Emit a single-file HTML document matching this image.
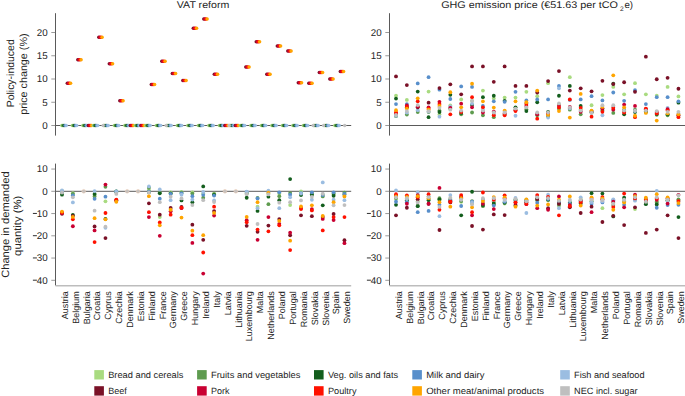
<!DOCTYPE html>
<html><head><meta charset="utf-8"><style>
html,body{margin:0;padding:0;background:#fff;width:685px;height:396px;overflow:hidden}
svg{display:block} text{text-rendering:geometricPrecision}
</style></head><body>
<svg width="685" height="396" viewBox="0 0 685 396"><text x="176.8" y="8" font-family="Liberation Sans, sans-serif" font-size="9.7" fill="#242424" textLength="52.5" lengthAdjust="spacingAndGlyphs">VAT reform</text>
<text x="441.2" y="8" font-family="Liberation Sans, sans-serif" font-size="9.7" fill="#242424" textLength="176.8" lengthAdjust="spacingAndGlyphs">GHG emission price (€51.63 per tCO</text>
<text x="620.1" y="10.7" font-family="Liberation Sans, sans-serif" font-size="6.6" fill="#242424">2</text>
<text x="624.4" y="8" font-family="Liberation Sans, sans-serif" font-size="9.7" fill="#242424">e)</text>
<text transform="translate(13.9,73.3) rotate(-90)" font-family="Liberation Sans, sans-serif" font-size="10.4" fill="#242424" text-anchor="middle" textLength="68" lengthAdjust="spacingAndGlyphs">Policy-induced</text>
<text transform="translate(27.0,74.1) rotate(-90)" font-family="Liberation Sans, sans-serif" font-size="10.4" fill="#242424" text-anchor="middle" textLength="81.2" lengthAdjust="spacingAndGlyphs">price change (%)</text>
<text transform="translate(8.9,224.6) rotate(-90)" font-family="Liberation Sans, sans-serif" font-size="10.6" fill="#242424" text-anchor="middle" textLength="106.5" lengthAdjust="spacingAndGlyphs">Change in demanded</text>
<text transform="translate(21.1,225.8) rotate(-90)" font-family="Liberation Sans, sans-serif" font-size="10.6" fill="#242424" text-anchor="middle" textLength="60.2" lengthAdjust="spacingAndGlyphs">quantity (%)</text>
<line x1="55.5" y1="13.2" x2="55.5" y2="135.6" stroke="#5a5a5a" stroke-width="1"/>
<line x1="51.3" y1="125.50" x2="55.5" y2="125.50" stroke="#6e6e6e" stroke-width="0.7"/>
<text x="47.6" y="128.90" font-family="Liberation Sans, sans-serif" font-size="9.8" fill="#242424" text-anchor="end">0</text>
<line x1="51.3" y1="102.25" x2="55.5" y2="102.25" stroke="#6e6e6e" stroke-width="0.7"/>
<text x="47.6" y="105.65" font-family="Liberation Sans, sans-serif" font-size="9.8" fill="#242424" text-anchor="end">5</text>
<line x1="51.3" y1="79.00" x2="55.5" y2="79.00" stroke="#6e6e6e" stroke-width="0.7"/>
<text x="47.6" y="82.40" font-family="Liberation Sans, sans-serif" font-size="9.8" fill="#242424" text-anchor="end">10</text>
<line x1="51.3" y1="55.75" x2="55.5" y2="55.75" stroke="#6e6e6e" stroke-width="0.7"/>
<text x="47.6" y="59.15" font-family="Liberation Sans, sans-serif" font-size="9.8" fill="#242424" text-anchor="end">15</text>
<line x1="51.3" y1="32.50" x2="55.5" y2="32.50" stroke="#6e6e6e" stroke-width="0.7"/>
<text x="47.6" y="35.90" font-family="Liberation Sans, sans-serif" font-size="9.8" fill="#242424" text-anchor="end">20</text>
<line x1="55.5" y1="125.5" x2="351.2" y2="125.5" stroke="#5a5a5a" stroke-width="1"/>
<line x1="55.5" y1="163.6" x2="55.5" y2="285.5" stroke="#5a5a5a" stroke-width="1"/>
<line x1="55.5" y1="285.8" x2="351.2" y2="285.8" stroke="#BDBDBD" stroke-width="1.6"/>
<line x1="51.3" y1="169.05" x2="55.5" y2="169.05" stroke="#6e6e6e" stroke-width="0.7"/>
<text x="47.6" y="172.45" font-family="Liberation Sans, sans-serif" font-size="9.8" fill="#242424" text-anchor="end">10</text>
<line x1="51.3" y1="191.30" x2="55.5" y2="191.30" stroke="#6e6e6e" stroke-width="0.7"/>
<text x="47.6" y="194.70" font-family="Liberation Sans, sans-serif" font-size="9.8" fill="#242424" text-anchor="end">0</text>
<line x1="51.3" y1="213.55" x2="55.5" y2="213.55" stroke="#6e6e6e" stroke-width="0.7"/>
<text x="47.6" y="216.95" font-family="Liberation Sans, sans-serif" font-size="9.8" fill="#242424" text-anchor="end">10</text>
<line x1="32.9" y1="213.45" x2="36.9" y2="213.45" stroke="#242424" stroke-width="0.95"/>
<line x1="51.3" y1="235.80" x2="55.5" y2="235.80" stroke="#6e6e6e" stroke-width="0.7"/>
<text x="47.6" y="239.20" font-family="Liberation Sans, sans-serif" font-size="9.8" fill="#242424" text-anchor="end">20</text>
<line x1="32.9" y1="235.70" x2="36.9" y2="235.70" stroke="#242424" stroke-width="0.95"/>
<line x1="51.3" y1="258.05" x2="55.5" y2="258.05" stroke="#6e6e6e" stroke-width="0.7"/>
<text x="47.6" y="261.45" font-family="Liberation Sans, sans-serif" font-size="9.8" fill="#242424" text-anchor="end">30</text>
<line x1="32.9" y1="257.95" x2="36.9" y2="257.95" stroke="#242424" stroke-width="0.95"/>
<line x1="51.3" y1="280.30" x2="55.5" y2="280.30" stroke="#6e6e6e" stroke-width="0.7"/>
<text x="47.6" y="283.70" font-family="Liberation Sans, sans-serif" font-size="9.8" fill="#242424" text-anchor="end">40</text>
<line x1="32.9" y1="280.20" x2="36.9" y2="280.20" stroke="#242424" stroke-width="0.95"/>
<line x1="55.5" y1="191.3" x2="351.2" y2="191.3" stroke="#5a5a5a" stroke-width="1"/>
<text transform="translate(67.80,291.2) rotate(-90)" font-family="Liberation Sans, sans-serif" font-size="9" fill="#242424" text-anchor="end">Austria</text>
<text transform="translate(78.66,291.2) rotate(-90)" font-family="Liberation Sans, sans-serif" font-size="9" fill="#242424" text-anchor="end">Belgium</text>
<text transform="translate(89.53,291.2) rotate(-90)" font-family="Liberation Sans, sans-serif" font-size="9" fill="#242424" text-anchor="end">Bulgaria</text>
<text transform="translate(100.39,291.2) rotate(-90)" font-family="Liberation Sans, sans-serif" font-size="9" fill="#242424" text-anchor="end">Croatia</text>
<text transform="translate(111.26,291.2) rotate(-90)" font-family="Liberation Sans, sans-serif" font-size="9" fill="#242424" text-anchor="end">Cyprus</text>
<text transform="translate(122.12,291.2) rotate(-90)" font-family="Liberation Sans, sans-serif" font-size="9" fill="#242424" text-anchor="end">Czechia</text>
<text transform="translate(132.98,291.2) rotate(-90)" font-family="Liberation Sans, sans-serif" font-size="9" fill="#242424" text-anchor="end">Denmark</text>
<text transform="translate(143.85,291.2) rotate(-90)" font-family="Liberation Sans, sans-serif" font-size="9" fill="#242424" text-anchor="end">Estonia</text>
<text transform="translate(154.71,291.2) rotate(-90)" font-family="Liberation Sans, sans-serif" font-size="9" fill="#242424" text-anchor="end">Finland</text>
<text transform="translate(165.58,291.2) rotate(-90)" font-family="Liberation Sans, sans-serif" font-size="9" fill="#242424" text-anchor="end">France</text>
<text transform="translate(176.44,291.2) rotate(-90)" font-family="Liberation Sans, sans-serif" font-size="9" fill="#242424" text-anchor="end">Germany</text>
<text transform="translate(187.30,291.2) rotate(-90)" font-family="Liberation Sans, sans-serif" font-size="9" fill="#242424" text-anchor="end">Greece</text>
<text transform="translate(198.17,291.2) rotate(-90)" font-family="Liberation Sans, sans-serif" font-size="9" fill="#242424" text-anchor="end">Hungary</text>
<text transform="translate(209.03,291.2) rotate(-90)" font-family="Liberation Sans, sans-serif" font-size="9" fill="#242424" text-anchor="end">Ireland</text>
<text transform="translate(219.90,291.2) rotate(-90)" font-family="Liberation Sans, sans-serif" font-size="9" fill="#242424" text-anchor="end">Italy</text>
<text transform="translate(230.76,291.2) rotate(-90)" font-family="Liberation Sans, sans-serif" font-size="9" fill="#242424" text-anchor="end">Latvia</text>
<text transform="translate(241.62,291.2) rotate(-90)" font-family="Liberation Sans, sans-serif" font-size="9" fill="#242424" text-anchor="end">Lithuania</text>
<text transform="translate(252.49,291.2) rotate(-90)" font-family="Liberation Sans, sans-serif" font-size="9" fill="#242424" text-anchor="end">Luxembourg</text>
<text transform="translate(263.35,291.2) rotate(-90)" font-family="Liberation Sans, sans-serif" font-size="9" fill="#242424" text-anchor="end">Malta</text>
<text transform="translate(274.22,291.2) rotate(-90)" font-family="Liberation Sans, sans-serif" font-size="9" fill="#242424" text-anchor="end">Netherlands</text>
<text transform="translate(285.08,291.2) rotate(-90)" font-family="Liberation Sans, sans-serif" font-size="9" fill="#242424" text-anchor="end">Poland</text>
<text transform="translate(295.94,291.2) rotate(-90)" font-family="Liberation Sans, sans-serif" font-size="9" fill="#242424" text-anchor="end">Portugal</text>
<text transform="translate(306.81,291.2) rotate(-90)" font-family="Liberation Sans, sans-serif" font-size="9" fill="#242424" text-anchor="end">Romania</text>
<text transform="translate(317.67,291.2) rotate(-90)" font-family="Liberation Sans, sans-serif" font-size="9" fill="#242424" text-anchor="end">Slovakia</text>
<text transform="translate(328.54,291.2) rotate(-90)" font-family="Liberation Sans, sans-serif" font-size="9" fill="#242424" text-anchor="end">Slovenia</text>
<text transform="translate(339.40,291.2) rotate(-90)" font-family="Liberation Sans, sans-serif" font-size="9" fill="#242424" text-anchor="end">Spain</text>
<text transform="translate(350.26,291.2) rotate(-90)" font-family="Liberation Sans, sans-serif" font-size="9" fill="#242424" text-anchor="end">Sweden</text>
<line x1="389.5" y1="13.2" x2="389.5" y2="135.6" stroke="#5a5a5a" stroke-width="1"/>
<line x1="385.3" y1="125.50" x2="389.5" y2="125.50" stroke="#6e6e6e" stroke-width="0.7"/>
<text x="381.6" y="128.90" font-family="Liberation Sans, sans-serif" font-size="9.8" fill="#242424" text-anchor="end">0</text>
<line x1="385.3" y1="102.25" x2="389.5" y2="102.25" stroke="#6e6e6e" stroke-width="0.7"/>
<text x="381.6" y="105.65" font-family="Liberation Sans, sans-serif" font-size="9.8" fill="#242424" text-anchor="end">5</text>
<line x1="385.3" y1="79.00" x2="389.5" y2="79.00" stroke="#6e6e6e" stroke-width="0.7"/>
<text x="381.6" y="82.40" font-family="Liberation Sans, sans-serif" font-size="9.8" fill="#242424" text-anchor="end">10</text>
<line x1="385.3" y1="55.75" x2="389.5" y2="55.75" stroke="#6e6e6e" stroke-width="0.7"/>
<text x="381.6" y="59.15" font-family="Liberation Sans, sans-serif" font-size="9.8" fill="#242424" text-anchor="end">15</text>
<line x1="385.3" y1="32.50" x2="389.5" y2="32.50" stroke="#6e6e6e" stroke-width="0.7"/>
<text x="381.6" y="35.90" font-family="Liberation Sans, sans-serif" font-size="9.8" fill="#242424" text-anchor="end">20</text>
<line x1="389.5" y1="125.5" x2="685.2" y2="125.5" stroke="#5a5a5a" stroke-width="1"/>
<line x1="389.5" y1="163.6" x2="389.5" y2="285.5" stroke="#5a5a5a" stroke-width="1"/>
<line x1="389.5" y1="285.8" x2="685.2" y2="285.8" stroke="#BDBDBD" stroke-width="1.6"/>
<line x1="385.3" y1="169.05" x2="389.5" y2="169.05" stroke="#6e6e6e" stroke-width="0.7"/>
<text x="381.6" y="172.45" font-family="Liberation Sans, sans-serif" font-size="9.8" fill="#242424" text-anchor="end">10</text>
<line x1="385.3" y1="191.30" x2="389.5" y2="191.30" stroke="#6e6e6e" stroke-width="0.7"/>
<text x="381.6" y="194.70" font-family="Liberation Sans, sans-serif" font-size="9.8" fill="#242424" text-anchor="end">0</text>
<line x1="385.3" y1="213.55" x2="389.5" y2="213.55" stroke="#6e6e6e" stroke-width="0.7"/>
<text x="381.6" y="216.95" font-family="Liberation Sans, sans-serif" font-size="9.8" fill="#242424" text-anchor="end">10</text>
<line x1="366.9" y1="213.45" x2="370.9" y2="213.45" stroke="#242424" stroke-width="0.95"/>
<line x1="385.3" y1="235.80" x2="389.5" y2="235.80" stroke="#6e6e6e" stroke-width="0.7"/>
<text x="381.6" y="239.20" font-family="Liberation Sans, sans-serif" font-size="9.8" fill="#242424" text-anchor="end">20</text>
<line x1="366.9" y1="235.70" x2="370.9" y2="235.70" stroke="#242424" stroke-width="0.95"/>
<line x1="385.3" y1="258.05" x2="389.5" y2="258.05" stroke="#6e6e6e" stroke-width="0.7"/>
<text x="381.6" y="261.45" font-family="Liberation Sans, sans-serif" font-size="9.8" fill="#242424" text-anchor="end">30</text>
<line x1="366.9" y1="257.95" x2="370.9" y2="257.95" stroke="#242424" stroke-width="0.95"/>
<line x1="385.3" y1="280.30" x2="389.5" y2="280.30" stroke="#6e6e6e" stroke-width="0.7"/>
<text x="381.6" y="283.70" font-family="Liberation Sans, sans-serif" font-size="9.8" fill="#242424" text-anchor="end">40</text>
<line x1="366.9" y1="280.20" x2="370.9" y2="280.20" stroke="#242424" stroke-width="0.95"/>
<line x1="389.5" y1="191.3" x2="685.2" y2="191.3" stroke="#5a5a5a" stroke-width="1"/>
<text transform="translate(401.80,291.2) rotate(-90)" font-family="Liberation Sans, sans-serif" font-size="9" fill="#242424" text-anchor="end">Austria</text>
<text transform="translate(412.66,291.2) rotate(-90)" font-family="Liberation Sans, sans-serif" font-size="9" fill="#242424" text-anchor="end">Belgium</text>
<text transform="translate(423.53,291.2) rotate(-90)" font-family="Liberation Sans, sans-serif" font-size="9" fill="#242424" text-anchor="end">Bulgaria</text>
<text transform="translate(434.39,291.2) rotate(-90)" font-family="Liberation Sans, sans-serif" font-size="9" fill="#242424" text-anchor="end">Croatia</text>
<text transform="translate(445.26,291.2) rotate(-90)" font-family="Liberation Sans, sans-serif" font-size="9" fill="#242424" text-anchor="end">Cyprus</text>
<text transform="translate(456.12,291.2) rotate(-90)" font-family="Liberation Sans, sans-serif" font-size="9" fill="#242424" text-anchor="end">Czechia</text>
<text transform="translate(466.98,291.2) rotate(-90)" font-family="Liberation Sans, sans-serif" font-size="9" fill="#242424" text-anchor="end">Denmark</text>
<text transform="translate(477.85,291.2) rotate(-90)" font-family="Liberation Sans, sans-serif" font-size="9" fill="#242424" text-anchor="end">Estonia</text>
<text transform="translate(488.71,291.2) rotate(-90)" font-family="Liberation Sans, sans-serif" font-size="9" fill="#242424" text-anchor="end">Finland</text>
<text transform="translate(499.58,291.2) rotate(-90)" font-family="Liberation Sans, sans-serif" font-size="9" fill="#242424" text-anchor="end">France</text>
<text transform="translate(510.44,291.2) rotate(-90)" font-family="Liberation Sans, sans-serif" font-size="9" fill="#242424" text-anchor="end">Germany</text>
<text transform="translate(521.30,291.2) rotate(-90)" font-family="Liberation Sans, sans-serif" font-size="9" fill="#242424" text-anchor="end">Greece</text>
<text transform="translate(532.17,291.2) rotate(-90)" font-family="Liberation Sans, sans-serif" font-size="9" fill="#242424" text-anchor="end">Hungary</text>
<text transform="translate(543.03,291.2) rotate(-90)" font-family="Liberation Sans, sans-serif" font-size="9" fill="#242424" text-anchor="end">Ireland</text>
<text transform="translate(553.90,291.2) rotate(-90)" font-family="Liberation Sans, sans-serif" font-size="9" fill="#242424" text-anchor="end">Italy</text>
<text transform="translate(564.76,291.2) rotate(-90)" font-family="Liberation Sans, sans-serif" font-size="9" fill="#242424" text-anchor="end">Latvia</text>
<text transform="translate(575.62,291.2) rotate(-90)" font-family="Liberation Sans, sans-serif" font-size="9" fill="#242424" text-anchor="end">Lithuania</text>
<text transform="translate(586.49,291.2) rotate(-90)" font-family="Liberation Sans, sans-serif" font-size="9" fill="#242424" text-anchor="end">Luxembourg</text>
<text transform="translate(597.35,291.2) rotate(-90)" font-family="Liberation Sans, sans-serif" font-size="9" fill="#242424" text-anchor="end">Malta</text>
<text transform="translate(608.22,291.2) rotate(-90)" font-family="Liberation Sans, sans-serif" font-size="9" fill="#242424" text-anchor="end">Netherlands</text>
<text transform="translate(619.08,291.2) rotate(-90)" font-family="Liberation Sans, sans-serif" font-size="9" fill="#242424" text-anchor="end">Poland</text>
<text transform="translate(629.94,291.2) rotate(-90)" font-family="Liberation Sans, sans-serif" font-size="9" fill="#242424" text-anchor="end">Portugal</text>
<text transform="translate(640.81,291.2) rotate(-90)" font-family="Liberation Sans, sans-serif" font-size="9" fill="#242424" text-anchor="end">Romania</text>
<text transform="translate(651.67,291.2) rotate(-90)" font-family="Liberation Sans, sans-serif" font-size="9" fill="#242424" text-anchor="end">Slovakia</text>
<text transform="translate(662.54,291.2) rotate(-90)" font-family="Liberation Sans, sans-serif" font-size="9" fill="#242424" text-anchor="end">Slovenia</text>
<text transform="translate(673.40,291.2) rotate(-90)" font-family="Liberation Sans, sans-serif" font-size="9" fill="#242424" text-anchor="end">Spain</text>
<text transform="translate(684.26,291.2) rotate(-90)" font-family="Liberation Sans, sans-serif" font-size="9" fill="#242424" text-anchor="end">Sweden</text>
<circle cx="61.80" cy="125.50" r="1.75" fill="#A9DB80"/>
<circle cx="62.90" cy="125.50" r="1.75" fill="#5E9B4F"/>
<circle cx="64.00" cy="125.50" r="1.75" fill="#135E1D"/>
<circle cx="65.10" cy="125.50" r="1.75" fill="#588FCB"/>
<circle cx="66.20" cy="125.50" r="1.75" fill="#9BBDE1"/>
<circle cx="67.30" cy="83.32" r="1.75" fill="#7A1127"/>
<circle cx="68.40" cy="83.32" r="1.75" fill="#C90032"/>
<circle cx="69.50" cy="83.32" r="1.75" fill="#FF1100"/>
<circle cx="70.60" cy="83.32" r="1.75" fill="#FFA500"/>
<circle cx="72.30" cy="125.50" r="1.75" fill="#A9DB80"/>
<circle cx="73.40" cy="125.50" r="1.75" fill="#5E9B4F"/>
<circle cx="74.50" cy="125.50" r="1.75" fill="#135E1D"/>
<circle cx="75.60" cy="125.50" r="1.75" fill="#588FCB"/>
<circle cx="76.70" cy="125.50" r="1.75" fill="#9BBDE1"/>
<circle cx="77.80" cy="59.70" r="1.75" fill="#7A1127"/>
<circle cx="78.90" cy="59.70" r="1.75" fill="#C90032"/>
<circle cx="80.00" cy="59.70" r="1.75" fill="#FF1100"/>
<circle cx="81.10" cy="59.70" r="1.75" fill="#FFA500"/>
<circle cx="82.80" cy="125.50" r="1.75" fill="#A9DB80"/>
<circle cx="83.90" cy="125.50" r="1.75" fill="#5E9B4F"/>
<circle cx="85.00" cy="125.50" r="1.75" fill="#135E1D"/>
<circle cx="86.10" cy="125.50" r="1.75" fill="#588FCB"/>
<circle cx="87.20" cy="125.50" r="1.75" fill="#9BBDE1"/>
<circle cx="88.30" cy="125.50" r="1.75" fill="#7A1127"/>
<circle cx="89.40" cy="125.50" r="1.75" fill="#C90032"/>
<circle cx="90.50" cy="125.50" r="1.75" fill="#FF1100"/>
<circle cx="91.60" cy="125.50" r="1.75" fill="#FFA500"/>
<circle cx="93.30" cy="125.50" r="1.75" fill="#A9DB80"/>
<circle cx="94.40" cy="125.50" r="1.75" fill="#5E9B4F"/>
<circle cx="95.50" cy="125.50" r="1.75" fill="#135E1D"/>
<circle cx="96.60" cy="125.50" r="1.75" fill="#588FCB"/>
<circle cx="97.70" cy="125.50" r="1.75" fill="#9BBDE1"/>
<circle cx="98.80" cy="37.29" r="1.75" fill="#7A1127"/>
<circle cx="99.90" cy="37.29" r="1.75" fill="#C90032"/>
<circle cx="101.00" cy="37.29" r="1.75" fill="#FF1100"/>
<circle cx="102.10" cy="37.29" r="1.75" fill="#FFA500"/>
<circle cx="103.80" cy="125.50" r="1.75" fill="#A9DB80"/>
<circle cx="104.90" cy="125.50" r="1.75" fill="#5E9B4F"/>
<circle cx="106.00" cy="125.50" r="1.75" fill="#135E1D"/>
<circle cx="107.10" cy="125.50" r="1.75" fill="#588FCB"/>
<circle cx="108.20" cy="125.50" r="1.75" fill="#9BBDE1"/>
<circle cx="109.30" cy="63.65" r="1.75" fill="#7A1127"/>
<circle cx="110.40" cy="63.65" r="1.75" fill="#C90032"/>
<circle cx="111.50" cy="63.65" r="1.75" fill="#FF1100"/>
<circle cx="112.60" cy="63.65" r="1.75" fill="#FFA500"/>
<circle cx="114.30" cy="125.50" r="1.75" fill="#A9DB80"/>
<circle cx="115.40" cy="125.50" r="1.75" fill="#5E9B4F"/>
<circle cx="116.50" cy="125.50" r="1.75" fill="#135E1D"/>
<circle cx="117.60" cy="125.50" r="1.75" fill="#588FCB"/>
<circle cx="118.70" cy="125.50" r="1.75" fill="#9BBDE1"/>
<circle cx="119.80" cy="100.86" r="1.75" fill="#7A1127"/>
<circle cx="120.90" cy="100.86" r="1.75" fill="#C90032"/>
<circle cx="122.00" cy="100.86" r="1.75" fill="#FF1100"/>
<circle cx="123.10" cy="100.86" r="1.75" fill="#FFA500"/>
<circle cx="124.80" cy="125.50" r="1.75" fill="#A9DB80"/>
<circle cx="125.90" cy="125.50" r="1.75" fill="#5E9B4F"/>
<circle cx="127.00" cy="125.50" r="1.75" fill="#135E1D"/>
<circle cx="128.10" cy="125.50" r="1.75" fill="#588FCB"/>
<circle cx="129.20" cy="125.50" r="1.75" fill="#9BBDE1"/>
<circle cx="130.30" cy="125.50" r="1.75" fill="#7A1127"/>
<circle cx="131.40" cy="125.50" r="1.75" fill="#C90032"/>
<circle cx="132.50" cy="125.50" r="1.75" fill="#FF1100"/>
<circle cx="133.60" cy="125.50" r="1.75" fill="#FFA500"/>
<circle cx="135.30" cy="125.50" r="1.75" fill="#A9DB80"/>
<circle cx="136.40" cy="125.50" r="1.75" fill="#5E9B4F"/>
<circle cx="137.50" cy="125.50" r="1.75" fill="#135E1D"/>
<circle cx="138.60" cy="125.50" r="1.75" fill="#588FCB"/>
<circle cx="139.70" cy="125.50" r="1.75" fill="#9BBDE1"/>
<circle cx="140.80" cy="125.50" r="1.75" fill="#7A1127"/>
<circle cx="141.90" cy="125.50" r="1.75" fill="#C90032"/>
<circle cx="143.00" cy="125.50" r="1.75" fill="#FF1100"/>
<circle cx="144.10" cy="125.50" r="1.75" fill="#FFA500"/>
<circle cx="145.80" cy="125.50" r="1.75" fill="#A9DB80"/>
<circle cx="146.90" cy="125.50" r="1.75" fill="#5E9B4F"/>
<circle cx="148.00" cy="125.50" r="1.75" fill="#135E1D"/>
<circle cx="149.10" cy="125.50" r="1.75" fill="#588FCB"/>
<circle cx="150.20" cy="125.50" r="1.75" fill="#9BBDE1"/>
<circle cx="151.30" cy="84.58" r="1.75" fill="#7A1127"/>
<circle cx="152.40" cy="84.58" r="1.75" fill="#C90032"/>
<circle cx="153.50" cy="84.58" r="1.75" fill="#FF1100"/>
<circle cx="154.60" cy="84.58" r="1.75" fill="#FFA500"/>
<circle cx="156.30" cy="125.50" r="1.75" fill="#A9DB80"/>
<circle cx="157.40" cy="125.50" r="1.75" fill="#5E9B4F"/>
<circle cx="158.50" cy="125.50" r="1.75" fill="#135E1D"/>
<circle cx="159.60" cy="125.50" r="1.75" fill="#588FCB"/>
<circle cx="160.70" cy="125.50" r="1.75" fill="#9BBDE1"/>
<circle cx="161.80" cy="61.33" r="1.75" fill="#7A1127"/>
<circle cx="162.90" cy="61.33" r="1.75" fill="#C90032"/>
<circle cx="164.00" cy="61.33" r="1.75" fill="#FF1100"/>
<circle cx="165.10" cy="61.33" r="1.75" fill="#FFA500"/>
<circle cx="166.80" cy="125.50" r="1.75" fill="#A9DB80"/>
<circle cx="167.90" cy="125.50" r="1.75" fill="#5E9B4F"/>
<circle cx="169.00" cy="125.50" r="1.75" fill="#135E1D"/>
<circle cx="170.10" cy="125.50" r="1.75" fill="#588FCB"/>
<circle cx="171.20" cy="125.50" r="1.75" fill="#9BBDE1"/>
<circle cx="172.30" cy="73.42" r="1.75" fill="#7A1127"/>
<circle cx="173.40" cy="73.42" r="1.75" fill="#C90032"/>
<circle cx="174.50" cy="73.42" r="1.75" fill="#FF1100"/>
<circle cx="175.60" cy="73.42" r="1.75" fill="#FFA500"/>
<circle cx="177.30" cy="125.50" r="1.75" fill="#A9DB80"/>
<circle cx="178.40" cy="125.50" r="1.75" fill="#5E9B4F"/>
<circle cx="179.50" cy="125.50" r="1.75" fill="#135E1D"/>
<circle cx="180.60" cy="125.50" r="1.75" fill="#588FCB"/>
<circle cx="181.70" cy="125.50" r="1.75" fill="#9BBDE1"/>
<circle cx="182.80" cy="80.40" r="1.75" fill="#7A1127"/>
<circle cx="183.90" cy="80.40" r="1.75" fill="#C90032"/>
<circle cx="185.00" cy="80.40" r="1.75" fill="#FF1100"/>
<circle cx="186.10" cy="80.40" r="1.75" fill="#FFA500"/>
<circle cx="187.80" cy="125.50" r="1.75" fill="#A9DB80"/>
<circle cx="188.90" cy="125.50" r="1.75" fill="#5E9B4F"/>
<circle cx="190.00" cy="125.50" r="1.75" fill="#135E1D"/>
<circle cx="191.10" cy="125.50" r="1.75" fill="#588FCB"/>
<circle cx="192.20" cy="125.50" r="1.75" fill="#9BBDE1"/>
<circle cx="193.30" cy="28.31" r="1.75" fill="#7A1127"/>
<circle cx="194.40" cy="28.31" r="1.75" fill="#C90032"/>
<circle cx="195.50" cy="28.31" r="1.75" fill="#FF1100"/>
<circle cx="196.60" cy="28.31" r="1.75" fill="#FFA500"/>
<circle cx="198.30" cy="125.50" r="1.75" fill="#A9DB80"/>
<circle cx="199.40" cy="125.50" r="1.75" fill="#5E9B4F"/>
<circle cx="200.50" cy="125.50" r="1.75" fill="#135E1D"/>
<circle cx="201.60" cy="125.50" r="1.75" fill="#588FCB"/>
<circle cx="202.70" cy="125.50" r="1.75" fill="#9BBDE1"/>
<circle cx="203.80" cy="19.02" r="1.75" fill="#7A1127"/>
<circle cx="204.90" cy="19.02" r="1.75" fill="#C90032"/>
<circle cx="206.00" cy="19.02" r="1.75" fill="#FF1100"/>
<circle cx="207.10" cy="19.02" r="1.75" fill="#FFA500"/>
<circle cx="208.80" cy="125.50" r="1.75" fill="#A9DB80"/>
<circle cx="209.90" cy="125.50" r="1.75" fill="#5E9B4F"/>
<circle cx="211.00" cy="125.50" r="1.75" fill="#135E1D"/>
<circle cx="212.10" cy="125.50" r="1.75" fill="#588FCB"/>
<circle cx="213.20" cy="125.50" r="1.75" fill="#9BBDE1"/>
<circle cx="214.30" cy="74.35" r="1.75" fill="#7A1127"/>
<circle cx="215.40" cy="74.35" r="1.75" fill="#C90032"/>
<circle cx="216.50" cy="74.35" r="1.75" fill="#FF1100"/>
<circle cx="217.60" cy="74.35" r="1.75" fill="#FFA500"/>
<circle cx="219.30" cy="125.50" r="1.75" fill="#A9DB80"/>
<circle cx="220.40" cy="125.50" r="1.75" fill="#5E9B4F"/>
<circle cx="221.50" cy="125.50" r="1.75" fill="#135E1D"/>
<circle cx="222.60" cy="125.50" r="1.75" fill="#588FCB"/>
<circle cx="223.70" cy="125.50" r="1.75" fill="#9BBDE1"/>
<circle cx="224.80" cy="125.50" r="1.75" fill="#7A1127"/>
<circle cx="225.90" cy="125.50" r="1.75" fill="#C90032"/>
<circle cx="227.00" cy="125.50" r="1.75" fill="#FF1100"/>
<circle cx="228.10" cy="125.50" r="1.75" fill="#FFA500"/>
<circle cx="229.80" cy="125.50" r="1.75" fill="#A9DB80"/>
<circle cx="230.90" cy="125.50" r="1.75" fill="#5E9B4F"/>
<circle cx="232.00" cy="125.50" r="1.75" fill="#135E1D"/>
<circle cx="233.10" cy="125.50" r="1.75" fill="#588FCB"/>
<circle cx="234.20" cy="125.50" r="1.75" fill="#9BBDE1"/>
<circle cx="235.30" cy="125.50" r="1.75" fill="#7A1127"/>
<circle cx="236.40" cy="125.50" r="1.75" fill="#C90032"/>
<circle cx="237.50" cy="125.50" r="1.75" fill="#FF1100"/>
<circle cx="238.60" cy="125.50" r="1.75" fill="#FFA500"/>
<circle cx="240.30" cy="125.50" r="1.75" fill="#A9DB80"/>
<circle cx="241.40" cy="125.50" r="1.75" fill="#5E9B4F"/>
<circle cx="242.50" cy="125.50" r="1.75" fill="#135E1D"/>
<circle cx="243.60" cy="125.50" r="1.75" fill="#588FCB"/>
<circle cx="244.70" cy="125.50" r="1.75" fill="#9BBDE1"/>
<circle cx="245.80" cy="66.91" r="1.75" fill="#7A1127"/>
<circle cx="246.90" cy="66.91" r="1.75" fill="#C90032"/>
<circle cx="248.00" cy="66.91" r="1.75" fill="#FF1100"/>
<circle cx="249.10" cy="66.91" r="1.75" fill="#FFA500"/>
<circle cx="250.80" cy="125.50" r="1.75" fill="#A9DB80"/>
<circle cx="251.90" cy="125.50" r="1.75" fill="#5E9B4F"/>
<circle cx="253.00" cy="125.50" r="1.75" fill="#135E1D"/>
<circle cx="254.10" cy="125.50" r="1.75" fill="#588FCB"/>
<circle cx="255.20" cy="125.50" r="1.75" fill="#9BBDE1"/>
<circle cx="256.30" cy="41.80" r="1.75" fill="#7A1127"/>
<circle cx="257.40" cy="41.80" r="1.75" fill="#C90032"/>
<circle cx="258.50" cy="41.80" r="1.75" fill="#FF1100"/>
<circle cx="259.60" cy="41.80" r="1.75" fill="#FFA500"/>
<circle cx="261.30" cy="125.50" r="1.75" fill="#A9DB80"/>
<circle cx="262.40" cy="125.50" r="1.75" fill="#5E9B4F"/>
<circle cx="263.50" cy="125.50" r="1.75" fill="#135E1D"/>
<circle cx="264.60" cy="125.50" r="1.75" fill="#588FCB"/>
<circle cx="265.70" cy="125.50" r="1.75" fill="#9BBDE1"/>
<circle cx="266.80" cy="74.35" r="1.75" fill="#7A1127"/>
<circle cx="267.90" cy="74.35" r="1.75" fill="#C90032"/>
<circle cx="269.00" cy="74.35" r="1.75" fill="#FF1100"/>
<circle cx="270.10" cy="74.35" r="1.75" fill="#FFA500"/>
<circle cx="271.80" cy="125.50" r="1.75" fill="#A9DB80"/>
<circle cx="272.90" cy="125.50" r="1.75" fill="#5E9B4F"/>
<circle cx="274.00" cy="125.50" r="1.75" fill="#135E1D"/>
<circle cx="275.10" cy="125.50" r="1.75" fill="#588FCB"/>
<circle cx="276.20" cy="125.50" r="1.75" fill="#9BBDE1"/>
<circle cx="277.30" cy="45.98" r="1.75" fill="#7A1127"/>
<circle cx="278.40" cy="45.98" r="1.75" fill="#C90032"/>
<circle cx="279.50" cy="45.98" r="1.75" fill="#FF1100"/>
<circle cx="280.60" cy="45.98" r="1.75" fill="#FFA500"/>
<circle cx="282.30" cy="125.50" r="1.75" fill="#A9DB80"/>
<circle cx="283.40" cy="125.50" r="1.75" fill="#5E9B4F"/>
<circle cx="284.50" cy="125.50" r="1.75" fill="#135E1D"/>
<circle cx="285.60" cy="125.50" r="1.75" fill="#588FCB"/>
<circle cx="286.70" cy="125.50" r="1.75" fill="#9BBDE1"/>
<circle cx="287.80" cy="51.10" r="1.75" fill="#7A1127"/>
<circle cx="288.90" cy="51.10" r="1.75" fill="#C90032"/>
<circle cx="290.00" cy="51.10" r="1.75" fill="#FF1100"/>
<circle cx="291.10" cy="51.10" r="1.75" fill="#FFA500"/>
<circle cx="292.80" cy="125.50" r="1.75" fill="#A9DB80"/>
<circle cx="293.90" cy="125.50" r="1.75" fill="#5E9B4F"/>
<circle cx="295.00" cy="125.50" r="1.75" fill="#135E1D"/>
<circle cx="296.10" cy="125.50" r="1.75" fill="#588FCB"/>
<circle cx="297.20" cy="125.50" r="1.75" fill="#9BBDE1"/>
<circle cx="298.30" cy="82.72" r="1.75" fill="#7A1127"/>
<circle cx="299.40" cy="82.72" r="1.75" fill="#C90032"/>
<circle cx="300.50" cy="82.72" r="1.75" fill="#FF1100"/>
<circle cx="301.60" cy="82.72" r="1.75" fill="#FFA500"/>
<circle cx="303.30" cy="125.50" r="1.75" fill="#A9DB80"/>
<circle cx="304.40" cy="125.50" r="1.75" fill="#5E9B4F"/>
<circle cx="305.50" cy="125.50" r="1.75" fill="#135E1D"/>
<circle cx="306.60" cy="125.50" r="1.75" fill="#588FCB"/>
<circle cx="307.70" cy="125.50" r="1.75" fill="#9BBDE1"/>
<circle cx="308.80" cy="83.19" r="1.75" fill="#7A1127"/>
<circle cx="309.90" cy="83.19" r="1.75" fill="#C90032"/>
<circle cx="311.00" cy="83.19" r="1.75" fill="#FF1100"/>
<circle cx="312.10" cy="83.19" r="1.75" fill="#FFA500"/>
<circle cx="313.80" cy="125.50" r="1.75" fill="#A9DB80"/>
<circle cx="314.90" cy="125.50" r="1.75" fill="#5E9B4F"/>
<circle cx="316.00" cy="125.50" r="1.75" fill="#135E1D"/>
<circle cx="317.10" cy="125.50" r="1.75" fill="#588FCB"/>
<circle cx="318.20" cy="125.50" r="1.75" fill="#9BBDE1"/>
<circle cx="319.30" cy="72.49" r="1.75" fill="#7A1127"/>
<circle cx="320.40" cy="72.49" r="1.75" fill="#C90032"/>
<circle cx="321.50" cy="72.49" r="1.75" fill="#FF1100"/>
<circle cx="322.60" cy="72.49" r="1.75" fill="#FFA500"/>
<circle cx="324.30" cy="125.50" r="1.75" fill="#A9DB80"/>
<circle cx="325.40" cy="125.50" r="1.75" fill="#5E9B4F"/>
<circle cx="326.50" cy="125.50" r="1.75" fill="#135E1D"/>
<circle cx="327.60" cy="125.50" r="1.75" fill="#588FCB"/>
<circle cx="328.70" cy="125.50" r="1.75" fill="#9BBDE1"/>
<circle cx="329.80" cy="79.00" r="1.75" fill="#7A1127"/>
<circle cx="330.90" cy="79.00" r="1.75" fill="#C90032"/>
<circle cx="332.00" cy="79.00" r="1.75" fill="#FF1100"/>
<circle cx="333.10" cy="79.00" r="1.75" fill="#FFA500"/>
<circle cx="334.80" cy="125.50" r="1.75" fill="#A9DB80"/>
<circle cx="335.90" cy="125.50" r="1.75" fill="#5E9B4F"/>
<circle cx="337.00" cy="125.50" r="1.75" fill="#135E1D"/>
<circle cx="338.10" cy="125.50" r="1.75" fill="#588FCB"/>
<circle cx="339.20" cy="125.50" r="1.75" fill="#9BBDE1"/>
<circle cx="340.30" cy="71.56" r="1.75" fill="#7A1127"/>
<circle cx="341.40" cy="71.56" r="1.75" fill="#C90032"/>
<circle cx="342.50" cy="71.56" r="1.75" fill="#FF1100"/>
<circle cx="343.60" cy="71.56" r="1.75" fill="#FFA500"/>
<circle cx="103.20" cy="125.50" r="1.75" fill="#BFBFBF"/>
<circle cx="166.20" cy="125.50" r="1.75" fill="#BFBFBF"/>
<circle cx="229.20" cy="125.50" r="1.75" fill="#BFBFBF"/>
<circle cx="313.20" cy="125.50" r="1.75" fill="#BFBFBF"/>
<circle cx="323.70" cy="125.50" r="1.75" fill="#BFBFBF"/>
<circle cx="344.70" cy="125.50" r="1.75" fill="#BFBFBF"/>
<circle cx="396.00" cy="95.74" r="1.9" fill="#A9DB80"/>
<circle cx="396.00" cy="116.20" r="1.9" fill="#5E9B4F"/>
<circle cx="396.00" cy="98.53" r="1.9" fill="#135E1D"/>
<circle cx="396.00" cy="104.11" r="1.9" fill="#588FCB"/>
<circle cx="396.00" cy="115.73" r="1.9" fill="#9BBDE1"/>
<circle cx="396.00" cy="76.40" r="1.9" fill="#7A1127"/>
<circle cx="396.00" cy="113.41" r="1.9" fill="#C90032"/>
<circle cx="396.00" cy="112.48" r="1.9" fill="#FF1100"/>
<circle cx="396.00" cy="110.16" r="1.9" fill="#FFA500"/>
<circle cx="396.00" cy="114.99" r="1.9" fill="#BFBFBF"/>
<circle cx="406.86" cy="99.92" r="1.9" fill="#A9DB80"/>
<circle cx="406.86" cy="114.57" r="1.9" fill="#5E9B4F"/>
<circle cx="406.86" cy="107.36" r="1.9" fill="#135E1D"/>
<circle cx="406.86" cy="104.11" r="1.9" fill="#588FCB"/>
<circle cx="406.86" cy="112.48" r="1.9" fill="#9BBDE1"/>
<circle cx="406.86" cy="85.05" r="1.9" fill="#7A1127"/>
<circle cx="406.86" cy="105.50" r="1.9" fill="#C90032"/>
<circle cx="406.86" cy="106.90" r="1.9" fill="#FF1100"/>
<circle cx="406.86" cy="108.53" r="1.9" fill="#FFA500"/>
<circle cx="406.86" cy="111.08" r="1.9" fill="#BFBFBF"/>
<circle cx="417.73" cy="106.90" r="1.9" fill="#A9DB80"/>
<circle cx="417.73" cy="112.02" r="1.9" fill="#5E9B4F"/>
<circle cx="417.73" cy="91.56" r="1.9" fill="#135E1D"/>
<circle cx="417.73" cy="83.42" r="1.9" fill="#588FCB"/>
<circle cx="417.73" cy="110.16" r="1.9" fill="#9BBDE1"/>
<circle cx="417.73" cy="107.36" r="1.9" fill="#7A1127"/>
<circle cx="417.73" cy="106.44" r="1.9" fill="#C90032"/>
<circle cx="417.73" cy="101.32" r="1.9" fill="#FF1100"/>
<circle cx="417.73" cy="98.30" r="1.9" fill="#FFA500"/>
<circle cx="417.73" cy="105.04" r="1.9" fill="#BFBFBF"/>
<circle cx="428.59" cy="91.56" r="1.9" fill="#A9DB80"/>
<circle cx="428.59" cy="112.02" r="1.9" fill="#5E9B4F"/>
<circle cx="428.59" cy="117.13" r="1.9" fill="#135E1D"/>
<circle cx="428.59" cy="77.14" r="1.9" fill="#588FCB"/>
<circle cx="428.59" cy="111.55" r="1.9" fill="#9BBDE1"/>
<circle cx="428.59" cy="102.72" r="1.9" fill="#7A1127"/>
<circle cx="428.59" cy="107.36" r="1.9" fill="#C90032"/>
<circle cx="428.59" cy="108.76" r="1.9" fill="#FF1100"/>
<circle cx="428.59" cy="109.69" r="1.9" fill="#FFA500"/>
<circle cx="428.59" cy="111.08" r="1.9" fill="#BFBFBF"/>
<circle cx="439.46" cy="114.57" r="1.9" fill="#A9DB80"/>
<circle cx="439.46" cy="110.62" r="1.9" fill="#5E9B4F"/>
<circle cx="439.46" cy="112.02" r="1.9" fill="#135E1D"/>
<circle cx="439.46" cy="89.69" r="1.9" fill="#588FCB"/>
<circle cx="439.46" cy="116.66" r="1.9" fill="#9BBDE1"/>
<circle cx="439.46" cy="88.07" r="1.9" fill="#7A1127"/>
<circle cx="439.46" cy="101.78" r="1.9" fill="#C90032"/>
<circle cx="439.46" cy="104.11" r="1.9" fill="#FF1100"/>
<circle cx="439.46" cy="105.97" r="1.9" fill="#FFA500"/>
<circle cx="439.46" cy="107.83" r="1.9" fill="#BFBFBF"/>
<circle cx="450.32" cy="105.50" r="1.9" fill="#A9DB80"/>
<circle cx="450.32" cy="108.76" r="1.9" fill="#5E9B4F"/>
<circle cx="450.32" cy="94.81" r="1.9" fill="#135E1D"/>
<circle cx="450.32" cy="99.00" r="1.9" fill="#588FCB"/>
<circle cx="450.32" cy="106.44" r="1.9" fill="#9BBDE1"/>
<circle cx="450.32" cy="84.35" r="1.9" fill="#7A1127"/>
<circle cx="450.32" cy="107.83" r="1.9" fill="#C90032"/>
<circle cx="450.32" cy="114.34" r="1.9" fill="#FF1100"/>
<circle cx="450.32" cy="92.25" r="1.9" fill="#FFA500"/>
<circle cx="450.32" cy="109.69" r="1.9" fill="#BFBFBF"/>
<circle cx="461.18" cy="99.46" r="1.9" fill="#A9DB80"/>
<circle cx="461.18" cy="114.34" r="1.9" fill="#5E9B4F"/>
<circle cx="461.18" cy="112.94" r="1.9" fill="#135E1D"/>
<circle cx="461.18" cy="86.44" r="1.9" fill="#588FCB"/>
<circle cx="461.18" cy="111.55" r="1.9" fill="#9BBDE1"/>
<circle cx="461.18" cy="94.34" r="1.9" fill="#7A1127"/>
<circle cx="461.18" cy="103.64" r="1.9" fill="#C90032"/>
<circle cx="461.18" cy="112.02" r="1.9" fill="#FF1100"/>
<circle cx="461.18" cy="107.36" r="1.9" fill="#FFA500"/>
<circle cx="461.18" cy="110.62" r="1.9" fill="#BFBFBF"/>
<circle cx="472.05" cy="100.86" r="1.9" fill="#A9DB80"/>
<circle cx="472.05" cy="112.48" r="1.9" fill="#5E9B4F"/>
<circle cx="472.05" cy="105.04" r="1.9" fill="#135E1D"/>
<circle cx="472.05" cy="86.91" r="1.9" fill="#588FCB"/>
<circle cx="472.05" cy="103.64" r="1.9" fill="#9BBDE1"/>
<circle cx="472.05" cy="66.44" r="1.9" fill="#7A1127"/>
<circle cx="472.05" cy="107.36" r="1.9" fill="#C90032"/>
<circle cx="472.05" cy="97.13" r="1.9" fill="#FF1100"/>
<circle cx="472.05" cy="83.65" r="1.9" fill="#FFA500"/>
<circle cx="472.05" cy="100.86" r="1.9" fill="#BFBFBF"/>
<circle cx="482.91" cy="90.62" r="1.9" fill="#A9DB80"/>
<circle cx="482.91" cy="115.27" r="1.9" fill="#5E9B4F"/>
<circle cx="482.91" cy="97.13" r="1.9" fill="#135E1D"/>
<circle cx="482.91" cy="105.97" r="1.9" fill="#588FCB"/>
<circle cx="482.91" cy="109.69" r="1.9" fill="#9BBDE1"/>
<circle cx="482.91" cy="66.44" r="1.9" fill="#7A1127"/>
<circle cx="482.91" cy="112.48" r="1.9" fill="#C90032"/>
<circle cx="482.91" cy="107.36" r="1.9" fill="#FF1100"/>
<circle cx="482.91" cy="101.32" r="1.9" fill="#FFA500"/>
<circle cx="482.91" cy="110.62" r="1.9" fill="#BFBFBF"/>
<circle cx="493.78" cy="98.53" r="1.9" fill="#A9DB80"/>
<circle cx="493.78" cy="117.13" r="1.9" fill="#5E9B4F"/>
<circle cx="493.78" cy="95.74" r="1.9" fill="#135E1D"/>
<circle cx="493.78" cy="101.32" r="1.9" fill="#588FCB"/>
<circle cx="493.78" cy="113.88" r="1.9" fill="#9BBDE1"/>
<circle cx="493.78" cy="81.79" r="1.9" fill="#7A1127"/>
<circle cx="493.78" cy="111.55" r="1.9" fill="#C90032"/>
<circle cx="493.78" cy="115.27" r="1.9" fill="#FF1100"/>
<circle cx="493.78" cy="107.60" r="1.9" fill="#FFA500"/>
<circle cx="493.78" cy="112.48" r="1.9" fill="#BFBFBF"/>
<circle cx="504.64" cy="97.60" r="1.9" fill="#A9DB80"/>
<circle cx="504.64" cy="114.34" r="1.9" fill="#5E9B4F"/>
<circle cx="504.64" cy="100.86" r="1.9" fill="#135E1D"/>
<circle cx="504.64" cy="101.78" r="1.9" fill="#588FCB"/>
<circle cx="504.64" cy="111.55" r="1.9" fill="#9BBDE1"/>
<circle cx="504.64" cy="66.44" r="1.9" fill="#7A1127"/>
<circle cx="504.64" cy="113.41" r="1.9" fill="#C90032"/>
<circle cx="504.64" cy="115.27" r="1.9" fill="#FF1100"/>
<circle cx="504.64" cy="110.62" r="1.9" fill="#FFA500"/>
<circle cx="504.64" cy="112.48" r="1.9" fill="#BFBFBF"/>
<circle cx="515.50" cy="97.60" r="1.9" fill="#A9DB80"/>
<circle cx="515.50" cy="109.69" r="1.9" fill="#5E9B4F"/>
<circle cx="515.50" cy="107.36" r="1.9" fill="#135E1D"/>
<circle cx="515.50" cy="91.79" r="1.9" fill="#588FCB"/>
<circle cx="515.50" cy="115.73" r="1.9" fill="#9BBDE1"/>
<circle cx="515.50" cy="85.97" r="1.9" fill="#7A1127"/>
<circle cx="515.50" cy="110.16" r="1.9" fill="#C90032"/>
<circle cx="515.50" cy="111.08" r="1.9" fill="#FF1100"/>
<circle cx="515.50" cy="101.32" r="1.9" fill="#FFA500"/>
<circle cx="515.50" cy="108.53" r="1.9" fill="#BFBFBF"/>
<circle cx="526.37" cy="91.79" r="1.9" fill="#A9DB80"/>
<circle cx="526.37" cy="109.22" r="1.9" fill="#5E9B4F"/>
<circle cx="526.37" cy="111.08" r="1.9" fill="#135E1D"/>
<circle cx="526.37" cy="100.39" r="1.9" fill="#588FCB"/>
<circle cx="526.37" cy="103.18" r="1.9" fill="#9BBDE1"/>
<circle cx="526.37" cy="85.97" r="1.9" fill="#7A1127"/>
<circle cx="526.37" cy="105.97" r="1.9" fill="#C90032"/>
<circle cx="526.37" cy="104.11" r="1.9" fill="#FF1100"/>
<circle cx="526.37" cy="102.25" r="1.9" fill="#FFA500"/>
<circle cx="526.37" cy="107.36" r="1.9" fill="#BFBFBF"/>
<circle cx="537.23" cy="96.20" r="1.9" fill="#A9DB80"/>
<circle cx="537.23" cy="115.27" r="1.9" fill="#5E9B4F"/>
<circle cx="537.23" cy="102.25" r="1.9" fill="#135E1D"/>
<circle cx="537.23" cy="99.46" r="1.9" fill="#588FCB"/>
<circle cx="537.23" cy="113.41" r="1.9" fill="#9BBDE1"/>
<circle cx="537.23" cy="92.48" r="1.9" fill="#7A1127"/>
<circle cx="537.23" cy="114.34" r="1.9" fill="#C90032"/>
<circle cx="537.23" cy="118.71" r="1.9" fill="#FF1100"/>
<circle cx="537.23" cy="90.62" r="1.9" fill="#FFA500"/>
<circle cx="537.23" cy="112.48" r="1.9" fill="#BFBFBF"/>
<circle cx="548.10" cy="83.19" r="1.9" fill="#A9DB80"/>
<circle cx="548.10" cy="116.20" r="1.9" fill="#5E9B4F"/>
<circle cx="548.10" cy="112.02" r="1.9" fill="#135E1D"/>
<circle cx="548.10" cy="99.46" r="1.9" fill="#588FCB"/>
<circle cx="548.10" cy="117.59" r="1.9" fill="#9BBDE1"/>
<circle cx="548.10" cy="81.09" r="1.9" fill="#7A1127"/>
<circle cx="548.10" cy="113.88" r="1.9" fill="#C90032"/>
<circle cx="548.10" cy="113.41" r="1.9" fill="#FF1100"/>
<circle cx="548.10" cy="114.81" r="1.9" fill="#FFA500"/>
<circle cx="548.10" cy="112.48" r="1.9" fill="#BFBFBF"/>
<circle cx="558.96" cy="104.58" r="1.9" fill="#A9DB80"/>
<circle cx="558.96" cy="108.76" r="1.9" fill="#5E9B4F"/>
<circle cx="558.96" cy="95.74" r="1.9" fill="#135E1D"/>
<circle cx="558.96" cy="85.97" r="1.9" fill="#588FCB"/>
<circle cx="558.96" cy="88.30" r="1.9" fill="#9BBDE1"/>
<circle cx="558.96" cy="71.09" r="1.9" fill="#7A1127"/>
<circle cx="558.96" cy="105.97" r="1.9" fill="#C90032"/>
<circle cx="558.96" cy="107.60" r="1.9" fill="#FF1100"/>
<circle cx="558.96" cy="111.08" r="1.9" fill="#FFA500"/>
<circle cx="558.96" cy="103.41" r="1.9" fill="#BFBFBF"/>
<circle cx="569.82" cy="77.14" r="1.9" fill="#A9DB80"/>
<circle cx="569.82" cy="109.69" r="1.9" fill="#5E9B4F"/>
<circle cx="569.82" cy="85.97" r="1.9" fill="#135E1D"/>
<circle cx="569.82" cy="99.92" r="1.9" fill="#588FCB"/>
<circle cx="569.82" cy="108.30" r="1.9" fill="#9BBDE1"/>
<circle cx="569.82" cy="90.62" r="1.9" fill="#7A1127"/>
<circle cx="569.82" cy="106.90" r="1.9" fill="#C90032"/>
<circle cx="569.82" cy="99.46" r="1.9" fill="#FF1100"/>
<circle cx="569.82" cy="117.59" r="1.9" fill="#FFA500"/>
<circle cx="569.82" cy="107.36" r="1.9" fill="#BFBFBF"/>
<circle cx="580.69" cy="109.22" r="1.9" fill="#A9DB80"/>
<circle cx="580.69" cy="114.34" r="1.9" fill="#5E9B4F"/>
<circle cx="580.69" cy="105.97" r="1.9" fill="#135E1D"/>
<circle cx="580.69" cy="99.46" r="1.9" fill="#588FCB"/>
<circle cx="580.69" cy="111.08" r="1.9" fill="#9BBDE1"/>
<circle cx="580.69" cy="88.30" r="1.9" fill="#7A1127"/>
<circle cx="580.69" cy="111.78" r="1.9" fill="#C90032"/>
<circle cx="580.69" cy="107.83" r="1.9" fill="#FF1100"/>
<circle cx="580.69" cy="93.88" r="1.9" fill="#FFA500"/>
<circle cx="580.69" cy="110.62" r="1.9" fill="#BFBFBF"/>
<circle cx="591.55" cy="105.27" r="1.9" fill="#A9DB80"/>
<circle cx="591.55" cy="112.02" r="1.9" fill="#5E9B4F"/>
<circle cx="591.55" cy="112.48" r="1.9" fill="#135E1D"/>
<circle cx="591.55" cy="96.20" r="1.9" fill="#588FCB"/>
<circle cx="591.55" cy="111.55" r="1.9" fill="#9BBDE1"/>
<circle cx="591.55" cy="91.32" r="1.9" fill="#7A1127"/>
<circle cx="591.55" cy="111.08" r="1.9" fill="#C90032"/>
<circle cx="591.55" cy="116.66" r="1.9" fill="#FF1100"/>
<circle cx="591.55" cy="110.62" r="1.9" fill="#FFA500"/>
<circle cx="591.55" cy="112.94" r="1.9" fill="#BFBFBF"/>
<circle cx="602.42" cy="95.04" r="1.9" fill="#A9DB80"/>
<circle cx="602.42" cy="110.62" r="1.9" fill="#5E9B4F"/>
<circle cx="602.42" cy="108.76" r="1.9" fill="#135E1D"/>
<circle cx="602.42" cy="100.39" r="1.9" fill="#588FCB"/>
<circle cx="602.42" cy="115.27" r="1.9" fill="#9BBDE1"/>
<circle cx="602.42" cy="80.86" r="1.9" fill="#7A1127"/>
<circle cx="602.42" cy="108.53" r="1.9" fill="#C90032"/>
<circle cx="602.42" cy="111.78" r="1.9" fill="#FF1100"/>
<circle cx="602.42" cy="106.90" r="1.9" fill="#FFA500"/>
<circle cx="602.42" cy="105.27" r="1.9" fill="#BFBFBF"/>
<circle cx="613.28" cy="86.91" r="1.9" fill="#A9DB80"/>
<circle cx="613.28" cy="112.94" r="1.9" fill="#5E9B4F"/>
<circle cx="613.28" cy="83.65" r="1.9" fill="#135E1D"/>
<circle cx="613.28" cy="92.48" r="1.9" fill="#588FCB"/>
<circle cx="613.28" cy="106.90" r="1.9" fill="#9BBDE1"/>
<circle cx="613.28" cy="84.11" r="1.9" fill="#7A1127"/>
<circle cx="613.28" cy="109.69" r="1.9" fill="#C90032"/>
<circle cx="613.28" cy="107.83" r="1.9" fill="#FF1100"/>
<circle cx="613.28" cy="75.28" r="1.9" fill="#FFA500"/>
<circle cx="613.28" cy="105.27" r="1.9" fill="#BFBFBF"/>
<circle cx="624.14" cy="94.34" r="1.9" fill="#A9DB80"/>
<circle cx="624.14" cy="109.69" r="1.9" fill="#5E9B4F"/>
<circle cx="624.14" cy="114.34" r="1.9" fill="#135E1D"/>
<circle cx="624.14" cy="100.86" r="1.9" fill="#588FCB"/>
<circle cx="624.14" cy="111.55" r="1.9" fill="#9BBDE1"/>
<circle cx="624.14" cy="82.25" r="1.9" fill="#7A1127"/>
<circle cx="624.14" cy="104.58" r="1.9" fill="#C90032"/>
<circle cx="624.14" cy="112.48" r="1.9" fill="#FF1100"/>
<circle cx="624.14" cy="107.36" r="1.9" fill="#FFA500"/>
<circle cx="624.14" cy="110.62" r="1.9" fill="#BFBFBF"/>
<circle cx="635.01" cy="83.19" r="1.9" fill="#A9DB80"/>
<circle cx="635.01" cy="109.69" r="1.9" fill="#5E9B4F"/>
<circle cx="635.01" cy="112.02" r="1.9" fill="#135E1D"/>
<circle cx="635.01" cy="90.16" r="1.9" fill="#588FCB"/>
<circle cx="635.01" cy="111.08" r="1.9" fill="#9BBDE1"/>
<circle cx="635.01" cy="91.79" r="1.9" fill="#7A1127"/>
<circle cx="635.01" cy="105.97" r="1.9" fill="#C90032"/>
<circle cx="635.01" cy="117.13" r="1.9" fill="#FF1100"/>
<circle cx="635.01" cy="115.73" r="1.9" fill="#FFA500"/>
<circle cx="635.01" cy="110.62" r="1.9" fill="#BFBFBF"/>
<circle cx="645.87" cy="94.34" r="1.9" fill="#A9DB80"/>
<circle cx="645.87" cy="112.02" r="1.9" fill="#5E9B4F"/>
<circle cx="645.87" cy="111.55" r="1.9" fill="#135E1D"/>
<circle cx="645.87" cy="104.11" r="1.9" fill="#588FCB"/>
<circle cx="645.87" cy="109.69" r="1.9" fill="#9BBDE1"/>
<circle cx="645.87" cy="56.68" r="1.9" fill="#7A1127"/>
<circle cx="645.87" cy="109.22" r="1.9" fill="#C90032"/>
<circle cx="645.87" cy="108.53" r="1.9" fill="#FF1100"/>
<circle cx="645.87" cy="112.94" r="1.9" fill="#FFA500"/>
<circle cx="645.87" cy="110.62" r="1.9" fill="#BFBFBF"/>
<circle cx="656.74" cy="95.74" r="1.9" fill="#A9DB80"/>
<circle cx="656.74" cy="114.81" r="1.9" fill="#5E9B4F"/>
<circle cx="656.74" cy="113.88" r="1.9" fill="#135E1D"/>
<circle cx="656.74" cy="97.13" r="1.9" fill="#588FCB"/>
<circle cx="656.74" cy="112.48" r="1.9" fill="#9BBDE1"/>
<circle cx="656.74" cy="79.23" r="1.9" fill="#7A1127"/>
<circle cx="656.74" cy="112.02" r="1.9" fill="#C90032"/>
<circle cx="656.74" cy="113.41" r="1.9" fill="#FF1100"/>
<circle cx="656.74" cy="120.62" r="1.9" fill="#FFA500"/>
<circle cx="656.74" cy="111.08" r="1.9" fill="#BFBFBF"/>
<circle cx="667.60" cy="86.91" r="1.9" fill="#A9DB80"/>
<circle cx="667.60" cy="115.27" r="1.9" fill="#5E9B4F"/>
<circle cx="667.60" cy="114.34" r="1.9" fill="#135E1D"/>
<circle cx="667.60" cy="97.13" r="1.9" fill="#588FCB"/>
<circle cx="667.60" cy="107.83" r="1.9" fill="#9BBDE1"/>
<circle cx="667.60" cy="77.84" r="1.9" fill="#7A1127"/>
<circle cx="667.60" cy="109.22" r="1.9" fill="#C90032"/>
<circle cx="667.60" cy="110.62" r="1.9" fill="#FF1100"/>
<circle cx="667.60" cy="113.41" r="1.9" fill="#FFA500"/>
<circle cx="667.60" cy="111.78" r="1.9" fill="#BFBFBF"/>
<circle cx="678.46" cy="96.44" r="1.9" fill="#A9DB80"/>
<circle cx="678.46" cy="115.73" r="1.9" fill="#5E9B4F"/>
<circle cx="678.46" cy="102.72" r="1.9" fill="#135E1D"/>
<circle cx="678.46" cy="101.32" r="1.9" fill="#588FCB"/>
<circle cx="678.46" cy="113.41" r="1.9" fill="#9BBDE1"/>
<circle cx="678.46" cy="88.76" r="1.9" fill="#7A1127"/>
<circle cx="678.46" cy="115.27" r="1.9" fill="#C90032"/>
<circle cx="678.46" cy="117.13" r="1.9" fill="#FF1100"/>
<circle cx="678.46" cy="114.34" r="1.9" fill="#FFA500"/>
<circle cx="678.46" cy="111.78" r="1.9" fill="#BFBFBF"/>
<circle cx="62.00" cy="190.86" r="1.9" fill="#A9DB80"/>
<circle cx="62.00" cy="191.97" r="1.9" fill="#5E9B4F"/>
<circle cx="62.00" cy="194.64" r="1.9" fill="#135E1D"/>
<circle cx="62.00" cy="191.52" r="1.9" fill="#588FCB"/>
<circle cx="62.00" cy="190.41" r="1.9" fill="#9BBDE1"/>
<circle cx="62.00" cy="213.77" r="1.9" fill="#7A1127"/>
<circle cx="62.00" cy="213.11" r="1.9" fill="#C90032"/>
<circle cx="62.00" cy="212.44" r="1.9" fill="#FF1100"/>
<circle cx="62.00" cy="211.55" r="1.9" fill="#FFA500"/>
<circle cx="62.00" cy="192.52" r="1.9" fill="#BFBFBF"/>
<circle cx="72.86" cy="193.19" r="1.9" fill="#A9DB80"/>
<circle cx="72.86" cy="193.97" r="1.9" fill="#5E9B4F"/>
<circle cx="72.86" cy="214.89" r="1.9" fill="#135E1D"/>
<circle cx="72.86" cy="195.31" r="1.9" fill="#588FCB"/>
<circle cx="72.86" cy="202.43" r="1.9" fill="#9BBDE1"/>
<circle cx="72.86" cy="215.78" r="1.9" fill="#7A1127"/>
<circle cx="72.86" cy="226.23" r="1.9" fill="#C90032"/>
<circle cx="72.86" cy="219.34" r="1.9" fill="#FF1100"/>
<circle cx="72.86" cy="216.89" r="1.9" fill="#FFA500"/>
<circle cx="72.86" cy="197.31" r="1.9" fill="#BFBFBF"/>
<circle cx="83.73" cy="191.30" r="1.9" fill="#C6C1BE" stroke="#EFC9AE" stroke-width="0.45"/>
<circle cx="94.59" cy="194.64" r="1.9" fill="#A9DB80"/>
<circle cx="94.59" cy="196.42" r="1.9" fill="#5E9B4F"/>
<circle cx="94.59" cy="193.97" r="1.9" fill="#135E1D"/>
<circle cx="94.59" cy="198.87" r="1.9" fill="#588FCB"/>
<circle cx="94.59" cy="191.08" r="1.9" fill="#9BBDE1"/>
<circle cx="94.59" cy="226.46" r="1.9" fill="#7A1127"/>
<circle cx="94.59" cy="230.46" r="1.9" fill="#C90032"/>
<circle cx="94.59" cy="242.03" r="1.9" fill="#FF1100"/>
<circle cx="94.59" cy="218.22" r="1.9" fill="#FFA500"/>
<circle cx="94.59" cy="210.66" r="1.9" fill="#BFBFBF"/>
<circle cx="105.46" cy="201.31" r="1.9" fill="#A9DB80"/>
<circle cx="105.46" cy="186.85" r="1.9" fill="#5E9B4F"/>
<circle cx="105.46" cy="218.89" r="1.9" fill="#135E1D"/>
<circle cx="105.46" cy="196.64" r="1.9" fill="#588FCB"/>
<circle cx="105.46" cy="227.79" r="1.9" fill="#9BBDE1"/>
<circle cx="105.46" cy="238.03" r="1.9" fill="#7A1127"/>
<circle cx="105.46" cy="184.62" r="1.9" fill="#C90032"/>
<circle cx="105.46" cy="212.99" r="1.9" fill="#FF1100"/>
<circle cx="105.46" cy="219.34" r="1.9" fill="#FFA500"/>
<circle cx="105.46" cy="226.68" r="1.9" fill="#BFBFBF"/>
<circle cx="116.32" cy="191.30" r="1.9" fill="#A9DB80"/>
<circle cx="116.32" cy="191.30" r="1.9" fill="#5E9B4F"/>
<circle cx="116.32" cy="191.97" r="1.9" fill="#135E1D"/>
<circle cx="116.32" cy="191.52" r="1.9" fill="#588FCB"/>
<circle cx="116.32" cy="191.75" r="1.9" fill="#9BBDE1"/>
<circle cx="116.32" cy="200.20" r="1.9" fill="#7A1127"/>
<circle cx="116.32" cy="200.65" r="1.9" fill="#C90032"/>
<circle cx="116.32" cy="199.53" r="1.9" fill="#FF1100"/>
<circle cx="116.32" cy="201.76" r="1.9" fill="#FFA500"/>
<circle cx="116.32" cy="193.97" r="1.9" fill="#BFBFBF"/>
<circle cx="127.18" cy="191.30" r="1.9" fill="#C6C1BE" stroke="#EFC9AE" stroke-width="0.45"/>
<circle cx="138.05" cy="191.30" r="1.9" fill="#C6C1BE" stroke="#EFC9AE" stroke-width="0.45"/>
<circle cx="148.91" cy="190.19" r="1.9" fill="#A9DB80"/>
<circle cx="148.91" cy="187.74" r="1.9" fill="#5E9B4F"/>
<circle cx="148.91" cy="192.19" r="1.9" fill="#135E1D"/>
<circle cx="148.91" cy="191.75" r="1.9" fill="#588FCB"/>
<circle cx="148.91" cy="186.41" r="1.9" fill="#9BBDE1"/>
<circle cx="148.91" cy="203.31" r="1.9" fill="#7A1127"/>
<circle cx="148.91" cy="217.11" r="1.9" fill="#C90032"/>
<circle cx="148.91" cy="212.22" r="1.9" fill="#FF1100"/>
<circle cx="148.91" cy="196.20" r="1.9" fill="#FFA500"/>
<circle cx="148.91" cy="192.41" r="1.9" fill="#BFBFBF"/>
<circle cx="159.78" cy="217.11" r="1.9" fill="#A9DB80"/>
<circle cx="159.78" cy="192.41" r="1.9" fill="#5E9B4F"/>
<circle cx="159.78" cy="193.30" r="1.9" fill="#135E1D"/>
<circle cx="159.78" cy="198.64" r="1.9" fill="#588FCB"/>
<circle cx="159.78" cy="189.52" r="1.9" fill="#9BBDE1"/>
<circle cx="159.78" cy="214.66" r="1.9" fill="#7A1127"/>
<circle cx="159.78" cy="235.80" r="1.9" fill="#C90032"/>
<circle cx="159.78" cy="222.45" r="1.9" fill="#FF1100"/>
<circle cx="159.78" cy="225.34" r="1.9" fill="#FFA500"/>
<circle cx="159.78" cy="202.20" r="1.9" fill="#BFBFBF"/>
<circle cx="170.64" cy="192.41" r="1.9" fill="#A9DB80"/>
<circle cx="170.64" cy="193.08" r="1.9" fill="#5E9B4F"/>
<circle cx="170.64" cy="193.53" r="1.9" fill="#135E1D"/>
<circle cx="170.64" cy="193.97" r="1.9" fill="#588FCB"/>
<circle cx="170.64" cy="200.20" r="1.9" fill="#9BBDE1"/>
<circle cx="170.64" cy="207.99" r="1.9" fill="#7A1127"/>
<circle cx="170.64" cy="211.33" r="1.9" fill="#C90032"/>
<circle cx="170.64" cy="214.66" r="1.9" fill="#FF1100"/>
<circle cx="170.64" cy="209.77" r="1.9" fill="#FFA500"/>
<circle cx="170.64" cy="196.64" r="1.9" fill="#BFBFBF"/>
<circle cx="181.50" cy="191.97" r="1.9" fill="#A9DB80"/>
<circle cx="181.50" cy="192.64" r="1.9" fill="#5E9B4F"/>
<circle cx="181.50" cy="200.42" r="1.9" fill="#135E1D"/>
<circle cx="181.50" cy="193.30" r="1.9" fill="#588FCB"/>
<circle cx="181.50" cy="194.64" r="1.9" fill="#9BBDE1"/>
<circle cx="181.50" cy="206.88" r="1.9" fill="#7A1127"/>
<circle cx="181.50" cy="208.21" r="1.9" fill="#C90032"/>
<circle cx="181.50" cy="207.54" r="1.9" fill="#FF1100"/>
<circle cx="181.50" cy="217.56" r="1.9" fill="#FFA500"/>
<circle cx="181.50" cy="198.42" r="1.9" fill="#BFBFBF"/>
<circle cx="192.37" cy="192.41" r="1.9" fill="#A9DB80"/>
<circle cx="192.37" cy="193.53" r="1.9" fill="#5E9B4F"/>
<circle cx="192.37" cy="202.20" r="1.9" fill="#135E1D"/>
<circle cx="192.37" cy="196.20" r="1.9" fill="#588FCB"/>
<circle cx="192.37" cy="199.53" r="1.9" fill="#9BBDE1"/>
<circle cx="192.37" cy="224.68" r="1.9" fill="#7A1127"/>
<circle cx="192.37" cy="242.92" r="1.9" fill="#C90032"/>
<circle cx="192.37" cy="235.13" r="1.9" fill="#FF1100"/>
<circle cx="192.37" cy="230.68" r="1.9" fill="#FFA500"/>
<circle cx="192.37" cy="205.10" r="1.9" fill="#BFBFBF"/>
<circle cx="203.23" cy="193.53" r="1.9" fill="#A9DB80"/>
<circle cx="203.23" cy="197.75" r="1.9" fill="#5E9B4F"/>
<circle cx="203.23" cy="186.41" r="1.9" fill="#135E1D"/>
<circle cx="203.23" cy="194.86" r="1.9" fill="#588FCB"/>
<circle cx="203.23" cy="191.97" r="1.9" fill="#9BBDE1"/>
<circle cx="203.23" cy="239.81" r="1.9" fill="#7A1127"/>
<circle cx="203.23" cy="273.62" r="1.9" fill="#C90032"/>
<circle cx="203.23" cy="252.49" r="1.9" fill="#FF1100"/>
<circle cx="203.23" cy="235.13" r="1.9" fill="#FFA500"/>
<circle cx="203.23" cy="200.20" r="1.9" fill="#BFBFBF"/>
<circle cx="214.10" cy="193.53" r="1.9" fill="#A9DB80"/>
<circle cx="214.10" cy="194.19" r="1.9" fill="#5E9B4F"/>
<circle cx="214.10" cy="194.86" r="1.9" fill="#135E1D"/>
<circle cx="214.10" cy="195.53" r="1.9" fill="#588FCB"/>
<circle cx="214.10" cy="200.42" r="1.9" fill="#9BBDE1"/>
<circle cx="214.10" cy="211.10" r="1.9" fill="#7A1127"/>
<circle cx="214.10" cy="215.55" r="1.9" fill="#C90032"/>
<circle cx="214.10" cy="206.65" r="1.9" fill="#FF1100"/>
<circle cx="214.10" cy="212.88" r="1.9" fill="#FFA500"/>
<circle cx="214.10" cy="201.98" r="1.9" fill="#BFBFBF"/>
<circle cx="224.96" cy="191.30" r="1.9" fill="#C6C1BE" stroke="#EFC9AE" stroke-width="0.45"/>
<circle cx="235.82" cy="191.30" r="1.9" fill="#C6C1BE" stroke="#EFC9AE" stroke-width="0.45"/>
<circle cx="246.69" cy="192.41" r="1.9" fill="#A9DB80"/>
<circle cx="246.69" cy="193.53" r="1.9" fill="#5E9B4F"/>
<circle cx="246.69" cy="197.75" r="1.9" fill="#135E1D"/>
<circle cx="246.69" cy="191.97" r="1.9" fill="#588FCB"/>
<circle cx="246.69" cy="191.75" r="1.9" fill="#9BBDE1"/>
<circle cx="246.69" cy="225.79" r="1.9" fill="#7A1127"/>
<circle cx="246.69" cy="220.23" r="1.9" fill="#C90032"/>
<circle cx="246.69" cy="222.23" r="1.9" fill="#FF1100"/>
<circle cx="246.69" cy="216.89" r="1.9" fill="#FFA500"/>
<circle cx="246.69" cy="194.19" r="1.9" fill="#BFBFBF"/>
<circle cx="257.55" cy="206.65" r="1.9" fill="#A9DB80"/>
<circle cx="257.55" cy="197.98" r="1.9" fill="#5E9B4F"/>
<circle cx="257.55" cy="210.88" r="1.9" fill="#135E1D"/>
<circle cx="257.55" cy="198.42" r="1.9" fill="#588FCB"/>
<circle cx="257.55" cy="208.21" r="1.9" fill="#9BBDE1"/>
<circle cx="257.55" cy="231.80" r="1.9" fill="#7A1127"/>
<circle cx="257.55" cy="239.81" r="1.9" fill="#C90032"/>
<circle cx="257.55" cy="229.57" r="1.9" fill="#FF1100"/>
<circle cx="257.55" cy="202.20" r="1.9" fill="#FFA500"/>
<circle cx="257.55" cy="224.01" r="1.9" fill="#BFBFBF"/>
<circle cx="268.42" cy="193.53" r="1.9" fill="#A9DB80"/>
<circle cx="268.42" cy="204.21" r="1.9" fill="#5E9B4F"/>
<circle cx="268.42" cy="196.64" r="1.9" fill="#135E1D"/>
<circle cx="268.42" cy="191.75" r="1.9" fill="#588FCB"/>
<circle cx="268.42" cy="190.63" r="1.9" fill="#9BBDE1"/>
<circle cx="268.42" cy="225.56" r="1.9" fill="#7A1127"/>
<circle cx="268.42" cy="217.11" r="1.9" fill="#C90032"/>
<circle cx="268.42" cy="231.35" r="1.9" fill="#FF1100"/>
<circle cx="268.42" cy="192.64" r="1.9" fill="#FFA500"/>
<circle cx="268.42" cy="194.42" r="1.9" fill="#BFBFBF"/>
<circle cx="279.28" cy="193.53" r="1.9" fill="#A9DB80"/>
<circle cx="279.28" cy="196.20" r="1.9" fill="#5E9B4F"/>
<circle cx="279.28" cy="200.20" r="1.9" fill="#135E1D"/>
<circle cx="279.28" cy="192.30" r="1.9" fill="#588FCB"/>
<circle cx="279.28" cy="208.21" r="1.9" fill="#9BBDE1"/>
<circle cx="279.28" cy="219.11" r="1.9" fill="#7A1127"/>
<circle cx="279.28" cy="223.79" r="1.9" fill="#C90032"/>
<circle cx="279.28" cy="225.34" r="1.9" fill="#FF1100"/>
<circle cx="279.28" cy="220.89" r="1.9" fill="#FFA500"/>
<circle cx="279.28" cy="202.65" r="1.9" fill="#BFBFBF"/>
<circle cx="290.14" cy="205.10" r="1.9" fill="#A9DB80"/>
<circle cx="290.14" cy="193.08" r="1.9" fill="#5E9B4F"/>
<circle cx="290.14" cy="179.06" r="1.9" fill="#135E1D"/>
<circle cx="290.14" cy="194.64" r="1.9" fill="#588FCB"/>
<circle cx="290.14" cy="197.31" r="1.9" fill="#9BBDE1"/>
<circle cx="290.14" cy="235.36" r="1.9" fill="#7A1127"/>
<circle cx="290.14" cy="232.69" r="1.9" fill="#C90032"/>
<circle cx="290.14" cy="250.04" r="1.9" fill="#FF1100"/>
<circle cx="290.14" cy="240.70" r="1.9" fill="#FFA500"/>
<circle cx="290.14" cy="202.20" r="1.9" fill="#BFBFBF"/>
<circle cx="301.01" cy="191.30" r="1.9" fill="#A9DB80"/>
<circle cx="301.01" cy="193.97" r="1.9" fill="#5E9B4F"/>
<circle cx="301.01" cy="195.08" r="1.9" fill="#135E1D"/>
<circle cx="301.01" cy="193.08" r="1.9" fill="#588FCB"/>
<circle cx="301.01" cy="193.53" r="1.9" fill="#9BBDE1"/>
<circle cx="301.01" cy="215.33" r="1.9" fill="#7A1127"/>
<circle cx="301.01" cy="207.99" r="1.9" fill="#C90032"/>
<circle cx="301.01" cy="209.10" r="1.9" fill="#FF1100"/>
<circle cx="301.01" cy="206.43" r="1.9" fill="#FFA500"/>
<circle cx="301.01" cy="200.42" r="1.9" fill="#BFBFBF"/>
<circle cx="311.87" cy="193.53" r="1.9" fill="#A9DB80"/>
<circle cx="311.87" cy="194.19" r="1.9" fill="#5E9B4F"/>
<circle cx="311.87" cy="194.86" r="1.9" fill="#135E1D"/>
<circle cx="311.87" cy="192.30" r="1.9" fill="#588FCB"/>
<circle cx="311.87" cy="199.76" r="1.9" fill="#9BBDE1"/>
<circle cx="311.87" cy="216.22" r="1.9" fill="#7A1127"/>
<circle cx="311.87" cy="209.10" r="1.9" fill="#C90032"/>
<circle cx="311.87" cy="210.44" r="1.9" fill="#FF1100"/>
<circle cx="311.87" cy="205.32" r="1.9" fill="#FFA500"/>
<circle cx="311.87" cy="196.86" r="1.9" fill="#BFBFBF"/>
<circle cx="322.74" cy="194.64" r="1.9" fill="#A9DB80"/>
<circle cx="322.74" cy="196.42" r="1.9" fill="#5E9B4F"/>
<circle cx="322.74" cy="205.32" r="1.9" fill="#135E1D"/>
<circle cx="322.74" cy="195.08" r="1.9" fill="#588FCB"/>
<circle cx="322.74" cy="182.40" r="1.9" fill="#9BBDE1"/>
<circle cx="322.74" cy="216.89" r="1.9" fill="#7A1127"/>
<circle cx="322.74" cy="218.89" r="1.9" fill="#C90032"/>
<circle cx="322.74" cy="230.46" r="1.9" fill="#FF1100"/>
<circle cx="322.74" cy="216.00" r="1.9" fill="#FFA500"/>
<circle cx="322.74" cy="193.75" r="1.9" fill="#BFBFBF"/>
<circle cx="333.60" cy="194.19" r="1.9" fill="#A9DB80"/>
<circle cx="333.60" cy="193.53" r="1.9" fill="#5E9B4F"/>
<circle cx="333.60" cy="195.75" r="1.9" fill="#135E1D"/>
<circle cx="333.60" cy="192.30" r="1.9" fill="#588FCB"/>
<circle cx="333.60" cy="199.76" r="1.9" fill="#9BBDE1"/>
<circle cx="333.60" cy="214.00" r="1.9" fill="#7A1127"/>
<circle cx="333.60" cy="220.00" r="1.9" fill="#C90032"/>
<circle cx="333.60" cy="217.11" r="1.9" fill="#FF1100"/>
<circle cx="333.60" cy="202.20" r="1.9" fill="#FFA500"/>
<circle cx="333.60" cy="205.32" r="1.9" fill="#BFBFBF"/>
<circle cx="344.46" cy="193.08" r="1.9" fill="#A9DB80"/>
<circle cx="344.46" cy="192.64" r="1.9" fill="#5E9B4F"/>
<circle cx="344.46" cy="194.64" r="1.9" fill="#135E1D"/>
<circle cx="344.46" cy="193.97" r="1.9" fill="#588FCB"/>
<circle cx="344.46" cy="200.20" r="1.9" fill="#9BBDE1"/>
<circle cx="344.46" cy="240.25" r="1.9" fill="#7A1127"/>
<circle cx="344.46" cy="243.14" r="1.9" fill="#C90032"/>
<circle cx="344.46" cy="217.11" r="1.9" fill="#FF1100"/>
<circle cx="344.46" cy="196.42" r="1.9" fill="#FFA500"/>
<circle cx="344.46" cy="205.10" r="1.9" fill="#BFBFBF"/>
<circle cx="396.00" cy="199.09" r="1.9" fill="#A9DB80"/>
<circle cx="396.00" cy="197.98" r="1.9" fill="#5E9B4F"/>
<circle cx="396.00" cy="204.87" r="1.9" fill="#135E1D"/>
<circle cx="396.00" cy="201.76" r="1.9" fill="#588FCB"/>
<circle cx="396.00" cy="190.41" r="1.9" fill="#9BBDE1"/>
<circle cx="396.00" cy="215.33" r="1.9" fill="#7A1127"/>
<circle cx="396.00" cy="195.31" r="1.9" fill="#C90032"/>
<circle cx="396.00" cy="194.19" r="1.9" fill="#FF1100"/>
<circle cx="396.00" cy="196.42" r="1.9" fill="#FFA500"/>
<circle cx="396.00" cy="197.31" r="1.9" fill="#BFBFBF"/>
<circle cx="406.86" cy="200.65" r="1.9" fill="#A9DB80"/>
<circle cx="406.86" cy="199.76" r="1.9" fill="#5E9B4F"/>
<circle cx="406.86" cy="200.20" r="1.9" fill="#135E1D"/>
<circle cx="406.86" cy="202.20" r="1.9" fill="#588FCB"/>
<circle cx="406.86" cy="199.09" r="1.9" fill="#9BBDE1"/>
<circle cx="406.86" cy="207.77" r="1.9" fill="#7A1127"/>
<circle cx="406.86" cy="203.76" r="1.9" fill="#C90032"/>
<circle cx="406.86" cy="195.31" r="1.9" fill="#FF1100"/>
<circle cx="406.86" cy="196.86" r="1.9" fill="#FFA500"/>
<circle cx="406.86" cy="198.20" r="1.9" fill="#BFBFBF"/>
<circle cx="417.73" cy="201.31" r="1.9" fill="#A9DB80"/>
<circle cx="417.73" cy="205.76" r="1.9" fill="#5E9B4F"/>
<circle cx="417.73" cy="206.21" r="1.9" fill="#135E1D"/>
<circle cx="417.73" cy="212.22" r="1.9" fill="#588FCB"/>
<circle cx="417.73" cy="192.19" r="1.9" fill="#9BBDE1"/>
<circle cx="417.73" cy="199.31" r="1.9" fill="#7A1127"/>
<circle cx="417.73" cy="195.08" r="1.9" fill="#C90032"/>
<circle cx="417.73" cy="197.31" r="1.9" fill="#FF1100"/>
<circle cx="417.73" cy="196.20" r="1.9" fill="#FFA500"/>
<circle cx="417.73" cy="202.43" r="1.9" fill="#BFBFBF"/>
<circle cx="428.59" cy="196.20" r="1.9" fill="#A9DB80"/>
<circle cx="428.59" cy="199.09" r="1.9" fill="#5E9B4F"/>
<circle cx="428.59" cy="200.20" r="1.9" fill="#135E1D"/>
<circle cx="428.59" cy="210.88" r="1.9" fill="#588FCB"/>
<circle cx="428.59" cy="196.64" r="1.9" fill="#9BBDE1"/>
<circle cx="428.59" cy="203.76" r="1.9" fill="#7A1127"/>
<circle cx="428.59" cy="203.76" r="1.9" fill="#C90032"/>
<circle cx="428.59" cy="194.19" r="1.9" fill="#FF1100"/>
<circle cx="428.59" cy="198.20" r="1.9" fill="#FFA500"/>
<circle cx="428.59" cy="197.09" r="1.9" fill="#BFBFBF"/>
<circle cx="439.46" cy="200.20" r="1.9" fill="#A9DB80"/>
<circle cx="439.46" cy="198.20" r="1.9" fill="#5E9B4F"/>
<circle cx="439.46" cy="199.31" r="1.9" fill="#135E1D"/>
<circle cx="439.46" cy="204.87" r="1.9" fill="#588FCB"/>
<circle cx="439.46" cy="216.22" r="1.9" fill="#9BBDE1"/>
<circle cx="439.46" cy="230.02" r="1.9" fill="#7A1127"/>
<circle cx="439.46" cy="187.96" r="1.9" fill="#C90032"/>
<circle cx="439.46" cy="209.77" r="1.9" fill="#FF1100"/>
<circle cx="439.46" cy="202.20" r="1.9" fill="#FFA500"/>
<circle cx="439.46" cy="206.88" r="1.9" fill="#BFBFBF"/>
<circle cx="450.32" cy="198.87" r="1.9" fill="#A9DB80"/>
<circle cx="450.32" cy="199.76" r="1.9" fill="#5E9B4F"/>
<circle cx="450.32" cy="200.87" r="1.9" fill="#135E1D"/>
<circle cx="450.32" cy="200.20" r="1.9" fill="#588FCB"/>
<circle cx="450.32" cy="195.08" r="1.9" fill="#9BBDE1"/>
<circle cx="450.32" cy="202.43" r="1.9" fill="#7A1127"/>
<circle cx="450.32" cy="201.31" r="1.9" fill="#C90032"/>
<circle cx="450.32" cy="201.76" r="1.9" fill="#FF1100"/>
<circle cx="450.32" cy="206.65" r="1.9" fill="#FFA500"/>
<circle cx="450.32" cy="197.75" r="1.9" fill="#BFBFBF"/>
<circle cx="461.18" cy="201.76" r="1.9" fill="#A9DB80"/>
<circle cx="461.18" cy="201.09" r="1.9" fill="#5E9B4F"/>
<circle cx="461.18" cy="215.33" r="1.9" fill="#135E1D"/>
<circle cx="461.18" cy="205.99" r="1.9" fill="#588FCB"/>
<circle cx="461.18" cy="199.09" r="1.9" fill="#9BBDE1"/>
<circle cx="461.18" cy="197.53" r="1.9" fill="#7A1127"/>
<circle cx="461.18" cy="196.64" r="1.9" fill="#C90032"/>
<circle cx="461.18" cy="195.08" r="1.9" fill="#FF1100"/>
<circle cx="461.18" cy="198.20" r="1.9" fill="#FFA500"/>
<circle cx="461.18" cy="199.76" r="1.9" fill="#BFBFBF"/>
<circle cx="472.05" cy="203.54" r="1.9" fill="#A9DB80"/>
<circle cx="472.05" cy="201.09" r="1.9" fill="#5E9B4F"/>
<circle cx="472.05" cy="191.75" r="1.9" fill="#135E1D"/>
<circle cx="472.05" cy="201.76" r="1.9" fill="#588FCB"/>
<circle cx="472.05" cy="202.43" r="1.9" fill="#9BBDE1"/>
<circle cx="472.05" cy="226.01" r="1.9" fill="#7A1127"/>
<circle cx="472.05" cy="215.33" r="1.9" fill="#C90032"/>
<circle cx="472.05" cy="212.22" r="1.9" fill="#FF1100"/>
<circle cx="472.05" cy="207.32" r="1.9" fill="#FFA500"/>
<circle cx="472.05" cy="204.43" r="1.9" fill="#BFBFBF"/>
<circle cx="482.91" cy="202.87" r="1.9" fill="#A9DB80"/>
<circle cx="482.91" cy="206.21" r="1.9" fill="#5E9B4F"/>
<circle cx="482.91" cy="205.10" r="1.9" fill="#135E1D"/>
<circle cx="482.91" cy="199.76" r="1.9" fill="#588FCB"/>
<circle cx="482.91" cy="200.20" r="1.9" fill="#9BBDE1"/>
<circle cx="482.91" cy="229.57" r="1.9" fill="#7A1127"/>
<circle cx="482.91" cy="203.76" r="1.9" fill="#C90032"/>
<circle cx="482.91" cy="192.52" r="1.9" fill="#FF1100"/>
<circle cx="482.91" cy="201.09" r="1.9" fill="#FFA500"/>
<circle cx="482.91" cy="198.20" r="1.9" fill="#BFBFBF"/>
<circle cx="493.78" cy="201.31" r="1.9" fill="#A9DB80"/>
<circle cx="493.78" cy="204.21" r="1.9" fill="#5E9B4F"/>
<circle cx="493.78" cy="203.09" r="1.9" fill="#135E1D"/>
<circle cx="493.78" cy="205.54" r="1.9" fill="#588FCB"/>
<circle cx="493.78" cy="200.20" r="1.9" fill="#9BBDE1"/>
<circle cx="493.78" cy="214.44" r="1.9" fill="#7A1127"/>
<circle cx="493.78" cy="209.10" r="1.9" fill="#C90032"/>
<circle cx="493.78" cy="199.76" r="1.9" fill="#FF1100"/>
<circle cx="493.78" cy="197.09" r="1.9" fill="#FFA500"/>
<circle cx="493.78" cy="198.20" r="1.9" fill="#BFBFBF"/>
<circle cx="504.64" cy="203.54" r="1.9" fill="#A9DB80"/>
<circle cx="504.64" cy="202.43" r="1.9" fill="#5E9B4F"/>
<circle cx="504.64" cy="202.87" r="1.9" fill="#135E1D"/>
<circle cx="504.64" cy="201.76" r="1.9" fill="#588FCB"/>
<circle cx="504.64" cy="200.65" r="1.9" fill="#9BBDE1"/>
<circle cx="504.64" cy="215.11" r="1.9" fill="#7A1127"/>
<circle cx="504.64" cy="198.42" r="1.9" fill="#C90032"/>
<circle cx="504.64" cy="195.31" r="1.9" fill="#FF1100"/>
<circle cx="504.64" cy="197.31" r="1.9" fill="#FFA500"/>
<circle cx="504.64" cy="199.53" r="1.9" fill="#BFBFBF"/>
<circle cx="515.50" cy="200.20" r="1.9" fill="#A9DB80"/>
<circle cx="515.50" cy="205.76" r="1.9" fill="#5E9B4F"/>
<circle cx="515.50" cy="199.76" r="1.9" fill="#135E1D"/>
<circle cx="515.50" cy="201.09" r="1.9" fill="#588FCB"/>
<circle cx="515.50" cy="197.98" r="1.9" fill="#9BBDE1"/>
<circle cx="515.50" cy="205.10" r="1.9" fill="#7A1127"/>
<circle cx="515.50" cy="202.87" r="1.9" fill="#C90032"/>
<circle cx="515.50" cy="202.20" r="1.9" fill="#FF1100"/>
<circle cx="515.50" cy="206.65" r="1.9" fill="#FFA500"/>
<circle cx="515.50" cy="198.87" r="1.9" fill="#BFBFBF"/>
<circle cx="526.37" cy="199.76" r="1.9" fill="#A9DB80"/>
<circle cx="526.37" cy="200.65" r="1.9" fill="#5E9B4F"/>
<circle cx="526.37" cy="201.98" r="1.9" fill="#135E1D"/>
<circle cx="526.37" cy="200.20" r="1.9" fill="#588FCB"/>
<circle cx="526.37" cy="212.99" r="1.9" fill="#9BBDE1"/>
<circle cx="526.37" cy="202.43" r="1.9" fill="#7A1127"/>
<circle cx="526.37" cy="204.21" r="1.9" fill="#C90032"/>
<circle cx="526.37" cy="203.76" r="1.9" fill="#FF1100"/>
<circle cx="526.37" cy="199.31" r="1.9" fill="#FFA500"/>
<circle cx="526.37" cy="201.31" r="1.9" fill="#BFBFBF"/>
<circle cx="537.23" cy="197.98" r="1.9" fill="#A9DB80"/>
<circle cx="537.23" cy="200.20" r="1.9" fill="#5E9B4F"/>
<circle cx="537.23" cy="198.87" r="1.9" fill="#135E1D"/>
<circle cx="537.23" cy="202.65" r="1.9" fill="#588FCB"/>
<circle cx="537.23" cy="196.64" r="1.9" fill="#9BBDE1"/>
<circle cx="537.23" cy="199.09" r="1.9" fill="#7A1127"/>
<circle cx="537.23" cy="208.21" r="1.9" fill="#C90032"/>
<circle cx="537.23" cy="195.08" r="1.9" fill="#FF1100"/>
<circle cx="537.23" cy="205.54" r="1.9" fill="#FFA500"/>
<circle cx="537.23" cy="197.31" r="1.9" fill="#BFBFBF"/>
<circle cx="548.10" cy="197.98" r="1.9" fill="#A9DB80"/>
<circle cx="548.10" cy="200.20" r="1.9" fill="#5E9B4F"/>
<circle cx="548.10" cy="199.31" r="1.9" fill="#135E1D"/>
<circle cx="548.10" cy="199.09" r="1.9" fill="#588FCB"/>
<circle cx="548.10" cy="194.64" r="1.9" fill="#9BBDE1"/>
<circle cx="548.10" cy="208.21" r="1.9" fill="#7A1127"/>
<circle cx="548.10" cy="209.77" r="1.9" fill="#C90032"/>
<circle cx="548.10" cy="196.86" r="1.9" fill="#FF1100"/>
<circle cx="548.10" cy="204.43" r="1.9" fill="#FFA500"/>
<circle cx="548.10" cy="198.20" r="1.9" fill="#BFBFBF"/>
<circle cx="558.96" cy="205.99" r="1.9" fill="#A9DB80"/>
<circle cx="558.96" cy="204.65" r="1.9" fill="#5E9B4F"/>
<circle cx="558.96" cy="202.87" r="1.9" fill="#135E1D"/>
<circle cx="558.96" cy="201.98" r="1.9" fill="#588FCB"/>
<circle cx="558.96" cy="208.21" r="1.9" fill="#9BBDE1"/>
<circle cx="558.96" cy="203.76" r="1.9" fill="#7A1127"/>
<circle cx="558.96" cy="196.42" r="1.9" fill="#C90032"/>
<circle cx="558.96" cy="215.33" r="1.9" fill="#FF1100"/>
<circle cx="558.96" cy="199.76" r="1.9" fill="#FFA500"/>
<circle cx="558.96" cy="200.87" r="1.9" fill="#BFBFBF"/>
<circle cx="569.82" cy="201.98" r="1.9" fill="#A9DB80"/>
<circle cx="569.82" cy="202.43" r="1.9" fill="#5E9B4F"/>
<circle cx="569.82" cy="203.09" r="1.9" fill="#135E1D"/>
<circle cx="569.82" cy="203.98" r="1.9" fill="#588FCB"/>
<circle cx="569.82" cy="200.87" r="1.9" fill="#9BBDE1"/>
<circle cx="569.82" cy="207.32" r="1.9" fill="#7A1127"/>
<circle cx="569.82" cy="205.10" r="1.9" fill="#C90032"/>
<circle cx="569.82" cy="206.21" r="1.9" fill="#FF1100"/>
<circle cx="569.82" cy="196.42" r="1.9" fill="#FFA500"/>
<circle cx="569.82" cy="199.76" r="1.9" fill="#BFBFBF"/>
<circle cx="580.69" cy="199.09" r="1.9" fill="#A9DB80"/>
<circle cx="580.69" cy="200.20" r="1.9" fill="#5E9B4F"/>
<circle cx="580.69" cy="203.54" r="1.9" fill="#135E1D"/>
<circle cx="580.69" cy="201.31" r="1.9" fill="#588FCB"/>
<circle cx="580.69" cy="197.31" r="1.9" fill="#9BBDE1"/>
<circle cx="580.69" cy="212.99" r="1.9" fill="#7A1127"/>
<circle cx="580.69" cy="200.87" r="1.9" fill="#C90032"/>
<circle cx="580.69" cy="202.20" r="1.9" fill="#FF1100"/>
<circle cx="580.69" cy="205.54" r="1.9" fill="#FFA500"/>
<circle cx="580.69" cy="199.53" r="1.9" fill="#BFBFBF"/>
<circle cx="591.55" cy="200.65" r="1.9" fill="#A9DB80"/>
<circle cx="591.55" cy="201.31" r="1.9" fill="#5E9B4F"/>
<circle cx="591.55" cy="193.19" r="1.9" fill="#135E1D"/>
<circle cx="591.55" cy="203.76" r="1.9" fill="#588FCB"/>
<circle cx="591.55" cy="202.20" r="1.9" fill="#9BBDE1"/>
<circle cx="591.55" cy="206.65" r="1.9" fill="#7A1127"/>
<circle cx="591.55" cy="212.22" r="1.9" fill="#C90032"/>
<circle cx="591.55" cy="198.64" r="1.9" fill="#FF1100"/>
<circle cx="591.55" cy="197.31" r="1.9" fill="#FFA500"/>
<circle cx="591.55" cy="199.53" r="1.9" fill="#BFBFBF"/>
<circle cx="602.42" cy="208.21" r="1.9" fill="#A9DB80"/>
<circle cx="602.42" cy="199.09" r="1.9" fill="#5E9B4F"/>
<circle cx="602.42" cy="193.53" r="1.9" fill="#135E1D"/>
<circle cx="602.42" cy="202.43" r="1.9" fill="#588FCB"/>
<circle cx="602.42" cy="201.31" r="1.9" fill="#9BBDE1"/>
<circle cx="602.42" cy="222.01" r="1.9" fill="#7A1127"/>
<circle cx="602.42" cy="199.53" r="1.9" fill="#C90032"/>
<circle cx="602.42" cy="197.09" r="1.9" fill="#FF1100"/>
<circle cx="602.42" cy="198.42" r="1.9" fill="#FFA500"/>
<circle cx="602.42" cy="200.20" r="1.9" fill="#BFBFBF"/>
<circle cx="613.28" cy="202.43" r="1.9" fill="#A9DB80"/>
<circle cx="613.28" cy="205.10" r="1.9" fill="#5E9B4F"/>
<circle cx="613.28" cy="216.44" r="1.9" fill="#135E1D"/>
<circle cx="613.28" cy="200.20" r="1.9" fill="#588FCB"/>
<circle cx="613.28" cy="199.31" r="1.9" fill="#9BBDE1"/>
<circle cx="613.28" cy="215.78" r="1.9" fill="#7A1127"/>
<circle cx="613.28" cy="201.76" r="1.9" fill="#C90032"/>
<circle cx="613.28" cy="206.88" r="1.9" fill="#FF1100"/>
<circle cx="613.28" cy="209.77" r="1.9" fill="#FFA500"/>
<circle cx="613.28" cy="203.76" r="1.9" fill="#BFBFBF"/>
<circle cx="624.14" cy="199.09" r="1.9" fill="#A9DB80"/>
<circle cx="624.14" cy="201.54" r="1.9" fill="#5E9B4F"/>
<circle cx="624.14" cy="197.75" r="1.9" fill="#135E1D"/>
<circle cx="624.14" cy="204.87" r="1.9" fill="#588FCB"/>
<circle cx="624.14" cy="200.65" r="1.9" fill="#9BBDE1"/>
<circle cx="624.14" cy="225.12" r="1.9" fill="#7A1127"/>
<circle cx="624.14" cy="207.32" r="1.9" fill="#C90032"/>
<circle cx="624.14" cy="193.53" r="1.9" fill="#FF1100"/>
<circle cx="624.14" cy="202.43" r="1.9" fill="#FFA500"/>
<circle cx="624.14" cy="199.76" r="1.9" fill="#BFBFBF"/>
<circle cx="635.01" cy="209.10" r="1.9" fill="#A9DB80"/>
<circle cx="635.01" cy="199.76" r="1.9" fill="#5E9B4F"/>
<circle cx="635.01" cy="197.98" r="1.9" fill="#135E1D"/>
<circle cx="635.01" cy="199.09" r="1.9" fill="#588FCB"/>
<circle cx="635.01" cy="200.65" r="1.9" fill="#9BBDE1"/>
<circle cx="635.01" cy="207.32" r="1.9" fill="#7A1127"/>
<circle cx="635.01" cy="194.64" r="1.9" fill="#C90032"/>
<circle cx="635.01" cy="198.42" r="1.9" fill="#FF1100"/>
<circle cx="635.01" cy="196.20" r="1.9" fill="#FFA500"/>
<circle cx="635.01" cy="197.31" r="1.9" fill="#BFBFBF"/>
<circle cx="645.87" cy="199.31" r="1.9" fill="#A9DB80"/>
<circle cx="645.87" cy="202.87" r="1.9" fill="#5E9B4F"/>
<circle cx="645.87" cy="204.21" r="1.9" fill="#135E1D"/>
<circle cx="645.87" cy="198.87" r="1.9" fill="#588FCB"/>
<circle cx="645.87" cy="198.42" r="1.9" fill="#9BBDE1"/>
<circle cx="645.87" cy="232.91" r="1.9" fill="#7A1127"/>
<circle cx="645.87" cy="200.65" r="1.9" fill="#C90032"/>
<circle cx="645.87" cy="199.76" r="1.9" fill="#FF1100"/>
<circle cx="645.87" cy="197.75" r="1.9" fill="#FFA500"/>
<circle cx="645.87" cy="201.76" r="1.9" fill="#BFBFBF"/>
<circle cx="656.74" cy="201.31" r="1.9" fill="#A9DB80"/>
<circle cx="656.74" cy="202.43" r="1.9" fill="#5E9B4F"/>
<circle cx="656.74" cy="204.43" r="1.9" fill="#135E1D"/>
<circle cx="656.74" cy="207.77" r="1.9" fill="#588FCB"/>
<circle cx="656.74" cy="190.86" r="1.9" fill="#9BBDE1"/>
<circle cx="656.74" cy="229.57" r="1.9" fill="#7A1127"/>
<circle cx="656.74" cy="199.76" r="1.9" fill="#C90032"/>
<circle cx="656.74" cy="198.42" r="1.9" fill="#FF1100"/>
<circle cx="656.74" cy="194.19" r="1.9" fill="#FFA500"/>
<circle cx="656.74" cy="197.31" r="1.9" fill="#BFBFBF"/>
<circle cx="667.60" cy="200.65" r="1.9" fill="#A9DB80"/>
<circle cx="667.60" cy="198.87" r="1.9" fill="#5E9B4F"/>
<circle cx="667.60" cy="200.20" r="1.9" fill="#135E1D"/>
<circle cx="667.60" cy="205.10" r="1.9" fill="#588FCB"/>
<circle cx="667.60" cy="201.31" r="1.9" fill="#9BBDE1"/>
<circle cx="667.60" cy="215.33" r="1.9" fill="#7A1127"/>
<circle cx="667.60" cy="203.54" r="1.9" fill="#C90032"/>
<circle cx="667.60" cy="198.42" r="1.9" fill="#FF1100"/>
<circle cx="667.60" cy="197.31" r="1.9" fill="#FFA500"/>
<circle cx="667.60" cy="199.76" r="1.9" fill="#BFBFBF"/>
<circle cx="678.46" cy="200.20" r="1.9" fill="#A9DB80"/>
<circle cx="678.46" cy="199.31" r="1.9" fill="#5E9B4F"/>
<circle cx="678.46" cy="217.11" r="1.9" fill="#135E1D"/>
<circle cx="678.46" cy="204.87" r="1.9" fill="#588FCB"/>
<circle cx="678.46" cy="201.54" r="1.9" fill="#9BBDE1"/>
<circle cx="678.46" cy="238.03" r="1.9" fill="#7A1127"/>
<circle cx="678.46" cy="194.86" r="1.9" fill="#C90032"/>
<circle cx="678.46" cy="201.09" r="1.9" fill="#FF1100"/>
<circle cx="678.46" cy="203.09" r="1.9" fill="#FFA500"/>
<circle cx="678.46" cy="195.31" r="1.9" fill="#BFBFBF"/>
<rect x="94.3" y="370.1" width="9.6" height="9.4" fill="#A9DB80"/>
<text x="108.2" y="378.2" font-family="Liberation Sans, sans-serif" font-size="9.1" fill="#242424" textLength="75.2" lengthAdjust="spacingAndGlyphs">Bread and cereals</text>
<rect x="94.3" y="386.2" width="9.6" height="9.4" fill="#7A1127"/>
<text x="108.2" y="394.3" font-family="Liberation Sans, sans-serif" font-size="9.1" fill="#242424" textLength="18.6" lengthAdjust="spacingAndGlyphs">Beef</text>
<rect x="197.1" y="370.1" width="9.6" height="9.4" fill="#5E9B4F"/>
<text x="211.0" y="378.2" font-family="Liberation Sans, sans-serif" font-size="9.1" fill="#242424" textLength="89.5" lengthAdjust="spacingAndGlyphs">Fruits and vegetables</text>
<rect x="197.1" y="386.2" width="9.6" height="9.4" fill="#C90032"/>
<text x="211.0" y="394.3" font-family="Liberation Sans, sans-serif" font-size="9.1" fill="#242424" textLength="18.5" lengthAdjust="spacingAndGlyphs">Pork</text>
<rect x="314.0" y="370.1" width="9.6" height="9.4" fill="#135E1D"/>
<text x="327.9" y="378.2" font-family="Liberation Sans, sans-serif" font-size="9.1" fill="#242424" textLength="70.3" lengthAdjust="spacingAndGlyphs">Veg. oils and fats</text>
<rect x="314.0" y="386.2" width="9.6" height="9.4" fill="#FF1100"/>
<text x="327.9" y="394.3" font-family="Liberation Sans, sans-serif" font-size="9.1" fill="#242424" textLength="28.6" lengthAdjust="spacingAndGlyphs">Poultry</text>
<rect x="412.3" y="370.1" width="9.6" height="9.4" fill="#588FCB"/>
<text x="426.2" y="378.2" font-family="Liberation Sans, sans-serif" font-size="9.1" fill="#242424" textLength="58.3" lengthAdjust="spacingAndGlyphs">Milk and dairy</text>
<rect x="412.3" y="386.2" width="9.6" height="9.4" fill="#FFA500"/>
<text x="426.2" y="394.3" font-family="Liberation Sans, sans-serif" font-size="9.1" fill="#242424" textLength="117.9" lengthAdjust="spacingAndGlyphs">Other meat/animal products</text>
<rect x="560.2" y="370.1" width="9.6" height="9.4" fill="#9BBDE1"/>
<text x="574.1" y="378.2" font-family="Liberation Sans, sans-serif" font-size="9.1" fill="#242424" textLength="70.5" lengthAdjust="spacingAndGlyphs">Fish and seafood</text>
<rect x="560.2" y="386.2" width="9.6" height="9.4" fill="#BFBFBF"/>
<text x="574.1" y="394.3" font-family="Liberation Sans, sans-serif" font-size="9.1" fill="#242424" textLength="63.5" lengthAdjust="spacingAndGlyphs">NEC incl. sugar</text></svg>
</body></html>
